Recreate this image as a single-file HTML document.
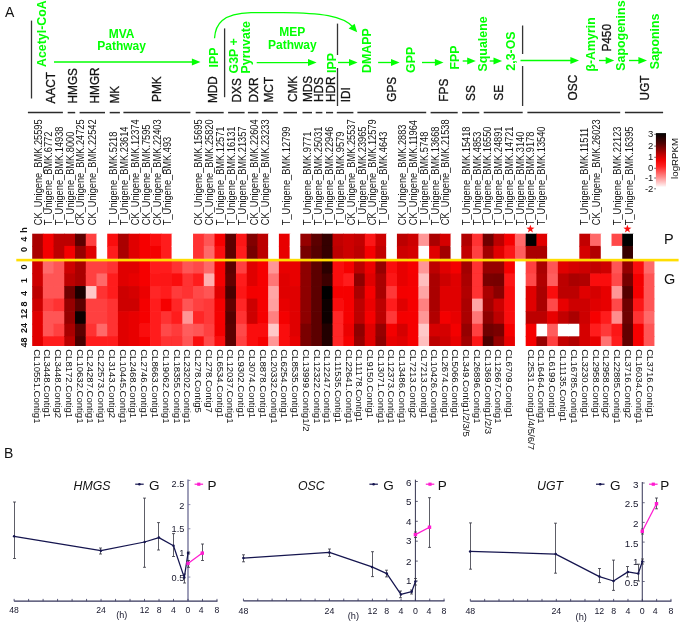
<!DOCTYPE html>
<html><head><meta charset="utf-8"><title>Figure</title>
<style>html,body{margin:0;padding:0;background:#fff;}svg{display:block;}text{font-family:"Liberation Sans",sans-serif;}</style>
</head><body>
<svg width="685" height="622" viewBox="0 0 685 622">
<rect width="685" height="622" fill="#fff"/>
<defs><filter id="hb" x="-2%" y="-5%" width="104%" height="110%"><feGaussianBlur stdDeviation="0.45"/></filter><clipPath id="hc"><rect x="32.1" y="233.4" width="622.34" height="25.50"/><rect x="32.1" y="260.9" width="622.34" height="85.10"/></clipPath></defs>
<g filter="url(#hb)"><g clip-path="url(#hc)">
<rect x="32.10" y="233.40" width="11.43" height="13.20" fill="#aa0000"/>
<rect x="32.10" y="245.90" width="11.43" height="13.00" fill="#aa0000"/>
<rect x="32.10" y="260.90" width="11.43" height="13.27" fill="#cd0000"/>
<rect x="32.10" y="273.47" width="11.43" height="13.27" fill="#cd0000"/>
<rect x="32.10" y="286.04" width="11.43" height="13.27" fill="#bc0000"/>
<rect x="32.10" y="298.61" width="11.43" height="13.27" fill="#cd0000"/>
<rect x="32.10" y="311.18" width="11.43" height="13.27" fill="#e00000"/>
<rect x="32.10" y="323.75" width="11.43" height="13.27" fill="#e00000"/>
<rect x="32.10" y="336.32" width="11.43" height="10.38" fill="#e00000"/>
<rect x="42.83" y="233.40" width="11.43" height="13.20" fill="#f40000"/>
<rect x="42.83" y="245.90" width="11.43" height="13.00" fill="#f40000"/>
<rect x="42.83" y="260.90" width="11.43" height="13.27" fill="#ff6969"/>
<rect x="42.83" y="273.47" width="11.43" height="13.27" fill="#ff5555"/>
<rect x="42.83" y="286.04" width="11.43" height="13.27" fill="#ff5555"/>
<rect x="42.83" y="298.61" width="11.43" height="13.27" fill="#ff4141"/>
<rect x="42.83" y="311.18" width="11.43" height="13.27" fill="#ff5555"/>
<rect x="42.83" y="323.75" width="11.43" height="13.27" fill="#ff5555"/>
<rect x="42.83" y="336.32" width="11.43" height="10.38" fill="#ff1e1e"/>
<rect x="53.56" y="233.40" width="11.43" height="13.20" fill="#bc0000"/>
<rect x="53.56" y="245.90" width="11.43" height="13.00" fill="#bc0000"/>
<rect x="53.56" y="260.90" width="11.43" height="13.27" fill="#ff5555"/>
<rect x="53.56" y="273.47" width="11.43" height="13.27" fill="#ff5555"/>
<rect x="53.56" y="286.04" width="11.43" height="13.27" fill="#ff5555"/>
<rect x="53.56" y="298.61" width="11.43" height="13.27" fill="#ff3030"/>
<rect x="53.56" y="311.18" width="11.43" height="13.27" fill="#ff5555"/>
<rect x="53.56" y="323.75" width="11.43" height="13.27" fill="#ff4141"/>
<rect x="53.56" y="336.32" width="11.43" height="10.38" fill="#ff1e1e"/>
<rect x="64.29" y="233.40" width="11.43" height="13.20" fill="#bc0000"/>
<rect x="64.29" y="245.90" width="11.43" height="13.00" fill="#f40000"/>
<rect x="64.29" y="260.90" width="11.43" height="13.27" fill="#cd0000"/>
<rect x="64.29" y="273.47" width="11.43" height="13.27" fill="#bc0000"/>
<rect x="64.29" y="286.04" width="11.43" height="13.27" fill="#6f0000"/>
<rect x="64.29" y="298.61" width="11.43" height="13.27" fill="#960000"/>
<rect x="64.29" y="311.18" width="11.43" height="13.27" fill="#960000"/>
<rect x="64.29" y="323.75" width="11.43" height="13.27" fill="#aa0000"/>
<rect x="64.29" y="336.32" width="11.43" height="10.38" fill="#bc0000"/>
<rect x="75.02" y="233.40" width="11.43" height="13.20" fill="#5c0000"/>
<rect x="75.02" y="245.90" width="11.43" height="13.00" fill="#960000"/>
<rect x="75.02" y="260.90" width="11.43" height="13.27" fill="#aa0000"/>
<rect x="75.02" y="273.47" width="11.43" height="13.27" fill="#aa0000"/>
<rect x="75.02" y="286.04" width="11.43" height="13.27" fill="#1a0000"/>
<rect x="75.02" y="298.61" width="11.43" height="13.27" fill="#5c0000"/>
<rect x="75.02" y="311.18" width="11.43" height="13.27" fill="#100000"/>
<rect x="75.02" y="323.75" width="11.43" height="13.27" fill="#5c0000"/>
<rect x="75.02" y="336.32" width="11.43" height="10.38" fill="#480000"/>
<rect x="85.75" y="233.40" width="11.43" height="13.20" fill="#ff4141"/>
<rect x="85.75" y="245.90" width="11.43" height="13.00" fill="#e00000"/>
<rect x="85.75" y="260.90" width="11.43" height="13.27" fill="#ff4141"/>
<rect x="85.75" y="273.47" width="11.43" height="13.27" fill="#ff4141"/>
<rect x="85.75" y="286.04" width="11.43" height="13.27" fill="#ffc8c8"/>
<rect x="85.75" y="298.61" width="11.43" height="13.27" fill="#ff4141"/>
<rect x="85.75" y="311.18" width="11.43" height="13.27" fill="#ff4141"/>
<rect x="85.75" y="323.75" width="11.43" height="13.27" fill="#ff3030"/>
<rect x="85.75" y="336.32" width="11.43" height="10.38" fill="#ff1e1e"/>
<rect x="96.48" y="233.40" width="11.43" height="13.20" fill="#ffffff"/>
<rect x="96.48" y="245.90" width="11.43" height="13.00" fill="#ffffff"/>
<rect x="96.48" y="260.90" width="11.43" height="13.27" fill="#ff4141"/>
<rect x="96.48" y="273.47" width="11.43" height="13.27" fill="#ff6969"/>
<rect x="96.48" y="286.04" width="11.43" height="13.27" fill="#ff3030"/>
<rect x="96.48" y="298.61" width="11.43" height="13.27" fill="#ff4141"/>
<rect x="96.48" y="311.18" width="11.43" height="13.27" fill="#ff4141"/>
<rect x="96.48" y="323.75" width="11.43" height="13.27" fill="#ff6969"/>
<rect x="96.48" y="336.32" width="11.43" height="10.38" fill="#ff1e1e"/>
<rect x="107.21" y="233.40" width="11.43" height="13.20" fill="#fa0f0f"/>
<rect x="107.21" y="245.90" width="11.43" height="13.00" fill="#ff1e1e"/>
<rect x="107.21" y="260.90" width="11.43" height="13.27" fill="#ff3030"/>
<rect x="107.21" y="273.47" width="11.43" height="13.27" fill="#ff1e1e"/>
<rect x="107.21" y="286.04" width="11.43" height="13.27" fill="#ff1e1e"/>
<rect x="107.21" y="298.61" width="11.43" height="13.27" fill="#ff3030"/>
<rect x="107.21" y="311.18" width="11.43" height="13.27" fill="#ff3030"/>
<rect x="107.21" y="323.75" width="11.43" height="13.27" fill="#ff3030"/>
<rect x="107.21" y="336.32" width="11.43" height="10.38" fill="#ff1e1e"/>
<rect x="117.94" y="233.40" width="11.43" height="13.20" fill="#aa0000"/>
<rect x="117.94" y="245.90" width="11.43" height="13.00" fill="#aa0000"/>
<rect x="117.94" y="260.90" width="11.43" height="13.27" fill="#e00000"/>
<rect x="117.94" y="273.47" width="11.43" height="13.27" fill="#e00000"/>
<rect x="117.94" y="286.04" width="11.43" height="13.27" fill="#cd0000"/>
<rect x="117.94" y="298.61" width="11.43" height="13.27" fill="#cd0000"/>
<rect x="117.94" y="311.18" width="11.43" height="13.27" fill="#e00000"/>
<rect x="117.94" y="323.75" width="11.43" height="13.27" fill="#e00000"/>
<rect x="117.94" y="336.32" width="11.43" height="10.38" fill="#e00000"/>
<rect x="128.67" y="233.40" width="11.43" height="13.20" fill="#e00000"/>
<rect x="128.67" y="245.90" width="11.43" height="13.00" fill="#e00000"/>
<rect x="128.67" y="260.90" width="11.43" height="13.27" fill="#e00000"/>
<rect x="128.67" y="273.47" width="11.43" height="13.27" fill="#e80000"/>
<rect x="128.67" y="286.04" width="11.43" height="13.27" fill="#d50000"/>
<rect x="128.67" y="298.61" width="11.43" height="13.27" fill="#cd0000"/>
<rect x="128.67" y="311.18" width="11.43" height="13.27" fill="#e80000"/>
<rect x="128.67" y="323.75" width="11.43" height="13.27" fill="#e80000"/>
<rect x="128.67" y="336.32" width="11.43" height="10.38" fill="#e80000"/>
<rect x="139.40" y="233.40" width="11.43" height="13.20" fill="#f60606"/>
<rect x="139.40" y="245.90" width="11.43" height="13.00" fill="#f60606"/>
<rect x="139.40" y="260.90" width="11.43" height="13.27" fill="#f60606"/>
<rect x="139.40" y="273.47" width="11.43" height="13.27" fill="#f60606"/>
<rect x="139.40" y="286.04" width="11.43" height="13.27" fill="#ec0000"/>
<rect x="139.40" y="298.61" width="11.43" height="13.27" fill="#f40000"/>
<rect x="139.40" y="311.18" width="11.43" height="13.27" fill="#f60606"/>
<rect x="139.40" y="323.75" width="11.43" height="13.27" fill="#fa0f0f"/>
<rect x="139.40" y="336.32" width="11.43" height="10.38" fill="#f60606"/>
<rect x="150.13" y="233.40" width="11.43" height="13.20" fill="#fa0f0f"/>
<rect x="150.13" y="245.90" width="11.43" height="13.00" fill="#f40000"/>
<rect x="150.13" y="260.90" width="11.43" height="13.27" fill="#ff1e1e"/>
<rect x="150.13" y="273.47" width="11.43" height="13.27" fill="#fd1818"/>
<rect x="150.13" y="286.04" width="11.43" height="13.27" fill="#ff2525"/>
<rect x="150.13" y="298.61" width="11.43" height="13.27" fill="#ff1e1e"/>
<rect x="150.13" y="311.18" width="11.43" height="13.27" fill="#ff1e1e"/>
<rect x="150.13" y="323.75" width="11.43" height="13.27" fill="#ff1e1e"/>
<rect x="150.13" y="336.32" width="11.43" height="10.38" fill="#ff1e1e"/>
<rect x="160.86" y="233.40" width="11.43" height="13.20" fill="#ff1e1e"/>
<rect x="160.86" y="245.90" width="11.43" height="13.00" fill="#ff1e1e"/>
<rect x="160.86" y="260.90" width="11.43" height="13.27" fill="#ff1e1e"/>
<rect x="160.86" y="273.47" width="11.43" height="13.27" fill="#fc1515"/>
<rect x="160.86" y="286.04" width="11.43" height="13.27" fill="#ff1e1e"/>
<rect x="160.86" y="298.61" width="11.43" height="13.27" fill="#f60606"/>
<rect x="160.86" y="311.18" width="11.43" height="13.27" fill="#ff3030"/>
<rect x="160.86" y="323.75" width="11.43" height="13.27" fill="#ff4949"/>
<rect x="160.86" y="336.32" width="11.43" height="10.38" fill="#ff3030"/>
<rect x="171.59" y="233.40" width="11.43" height="13.20" fill="#ffffff"/>
<rect x="171.59" y="245.90" width="11.43" height="13.00" fill="#ffffff"/>
<rect x="171.59" y="260.90" width="11.43" height="13.27" fill="#ff3030"/>
<rect x="171.59" y="273.47" width="11.43" height="13.27" fill="#fa0f0f"/>
<rect x="171.59" y="286.04" width="11.43" height="13.27" fill="#ff3a3a"/>
<rect x="171.59" y="298.61" width="11.43" height="13.27" fill="#ff2525"/>
<rect x="171.59" y="311.18" width="11.43" height="13.27" fill="#ff1e1e"/>
<rect x="171.59" y="323.75" width="11.43" height="13.27" fill="#ff3a3a"/>
<rect x="171.59" y="336.32" width="11.43" height="10.38" fill="#ff3030"/>
<rect x="182.32" y="233.40" width="11.43" height="13.20" fill="#ffffff"/>
<rect x="182.32" y="245.90" width="11.43" height="13.00" fill="#ffffff"/>
<rect x="182.32" y="260.90" width="11.43" height="13.27" fill="#ff5555"/>
<rect x="182.32" y="273.47" width="11.43" height="13.27" fill="#ff3030"/>
<rect x="182.32" y="286.04" width="11.43" height="13.27" fill="#ff3030"/>
<rect x="182.32" y="298.61" width="11.43" height="13.27" fill="#ff5555"/>
<rect x="182.32" y="311.18" width="11.43" height="13.27" fill="#ff9696"/>
<rect x="182.32" y="323.75" width="11.43" height="13.27" fill="#ff5d5d"/>
<rect x="182.32" y="336.32" width="11.43" height="10.38" fill="#ff5555"/>
<rect x="193.05" y="233.40" width="11.43" height="13.20" fill="#ff3030"/>
<rect x="193.05" y="245.90" width="11.43" height="13.00" fill="#ff3030"/>
<rect x="193.05" y="260.90" width="11.43" height="13.27" fill="#ff4949"/>
<rect x="193.05" y="273.47" width="11.43" height="13.27" fill="#ff1e1e"/>
<rect x="193.05" y="286.04" width="11.43" height="13.27" fill="#ff4949"/>
<rect x="193.05" y="298.61" width="11.43" height="13.27" fill="#ff4141"/>
<rect x="193.05" y="311.18" width="11.43" height="13.27" fill="#ff2525"/>
<rect x="193.05" y="323.75" width="11.43" height="13.27" fill="#ff5555"/>
<rect x="193.05" y="336.32" width="11.43" height="10.38" fill="#fa0f0f"/>
<rect x="203.78" y="233.40" width="11.43" height="13.20" fill="#ff5555"/>
<rect x="203.78" y="245.90" width="11.43" height="13.00" fill="#ff6969"/>
<rect x="203.78" y="260.90" width="11.43" height="13.27" fill="#ff6969"/>
<rect x="203.78" y="273.47" width="11.43" height="13.27" fill="#ffafaf"/>
<rect x="203.78" y="286.04" width="11.43" height="13.27" fill="#ff5555"/>
<rect x="203.78" y="298.61" width="11.43" height="13.27" fill="#ff3737"/>
<rect x="203.78" y="311.18" width="11.43" height="13.27" fill="#ff3737"/>
<rect x="203.78" y="323.75" width="11.43" height="13.27" fill="#ff4141"/>
<rect x="203.78" y="336.32" width="11.43" height="10.38" fill="#ff4949"/>
<rect x="214.51" y="233.40" width="11.43" height="13.20" fill="#f60606"/>
<rect x="214.51" y="245.90" width="11.43" height="13.00" fill="#fa0f0f"/>
<rect x="214.51" y="260.90" width="11.43" height="13.27" fill="#f40000"/>
<rect x="214.51" y="273.47" width="11.43" height="13.27" fill="#f40000"/>
<rect x="214.51" y="286.04" width="11.43" height="13.27" fill="#e00000"/>
<rect x="214.51" y="298.61" width="11.43" height="13.27" fill="#f40000"/>
<rect x="214.51" y="311.18" width="11.43" height="13.27" fill="#f60606"/>
<rect x="214.51" y="323.75" width="11.43" height="13.27" fill="#f40000"/>
<rect x="214.51" y="336.32" width="11.43" height="10.38" fill="#fa0f0f"/>
<rect x="225.24" y="233.40" width="11.43" height="13.20" fill="#5c0000"/>
<rect x="225.24" y="245.90" width="11.43" height="13.00" fill="#5c0000"/>
<rect x="225.24" y="260.90" width="11.43" height="13.27" fill="#5c0000"/>
<rect x="225.24" y="273.47" width="11.43" height="13.27" fill="#640000"/>
<rect x="225.24" y="286.04" width="11.43" height="13.27" fill="#480000"/>
<rect x="225.24" y="298.61" width="11.43" height="13.27" fill="#640000"/>
<rect x="225.24" y="311.18" width="11.43" height="13.27" fill="#540000"/>
<rect x="225.24" y="323.75" width="11.43" height="13.27" fill="#5c0000"/>
<rect x="225.24" y="336.32" width="11.43" height="10.38" fill="#5c0000"/>
<rect x="235.97" y="233.40" width="11.43" height="13.20" fill="#fc1515"/>
<rect x="235.97" y="245.90" width="11.43" height="13.00" fill="#ff1e1e"/>
<rect x="235.97" y="260.90" width="11.43" height="13.27" fill="#ff4141"/>
<rect x="235.97" y="273.47" width="11.43" height="13.27" fill="#ff1e1e"/>
<rect x="235.97" y="286.04" width="11.43" height="13.27" fill="#fd1818"/>
<rect x="235.97" y="298.61" width="11.43" height="13.27" fill="#ff2525"/>
<rect x="235.97" y="311.18" width="11.43" height="13.27" fill="#ff3030"/>
<rect x="235.97" y="323.75" width="11.43" height="13.27" fill="#ff4949"/>
<rect x="235.97" y="336.32" width="11.43" height="10.38" fill="#ff4141"/>
<rect x="246.70" y="233.40" width="11.43" height="13.20" fill="#820000"/>
<rect x="246.70" y="245.90" width="11.43" height="13.00" fill="#770000"/>
<rect x="246.70" y="260.90" width="11.43" height="13.27" fill="#e00000"/>
<rect x="246.70" y="273.47" width="11.43" height="13.27" fill="#e00000"/>
<rect x="246.70" y="286.04" width="11.43" height="13.27" fill="#f40000"/>
<rect x="246.70" y="298.61" width="11.43" height="13.27" fill="#cd0000"/>
<rect x="246.70" y="311.18" width="11.43" height="13.27" fill="#cd0000"/>
<rect x="246.70" y="323.75" width="11.43" height="13.27" fill="#fa0f0f"/>
<rect x="246.70" y="336.32" width="11.43" height="10.38" fill="#fa0f0f"/>
<rect x="257.43" y="233.40" width="11.43" height="13.20" fill="#bc0000"/>
<rect x="257.43" y="245.90" width="11.43" height="13.00" fill="#bc0000"/>
<rect x="257.43" y="260.90" width="11.43" height="13.27" fill="#f60606"/>
<rect x="257.43" y="273.47" width="11.43" height="13.27" fill="#f60606"/>
<rect x="257.43" y="286.04" width="11.43" height="13.27" fill="#f60606"/>
<rect x="257.43" y="298.61" width="11.43" height="13.27" fill="#f60606"/>
<rect x="257.43" y="311.18" width="11.43" height="13.27" fill="#f60606"/>
<rect x="257.43" y="323.75" width="11.43" height="13.27" fill="#fa0f0f"/>
<rect x="257.43" y="336.32" width="11.43" height="10.38" fill="#f60606"/>
<rect x="268.16" y="233.40" width="11.43" height="13.20" fill="#ffffff"/>
<rect x="268.16" y="245.90" width="11.43" height="13.00" fill="#ffffff"/>
<rect x="268.16" y="260.90" width="11.43" height="13.27" fill="#ff9696"/>
<rect x="268.16" y="273.47" width="11.43" height="13.27" fill="#ff7676"/>
<rect x="268.16" y="286.04" width="11.43" height="13.27" fill="#ffa5a5"/>
<rect x="268.16" y="298.61" width="11.43" height="13.27" fill="#ffa0a0"/>
<rect x="268.16" y="311.18" width="11.43" height="13.27" fill="#ff8080"/>
<rect x="268.16" y="323.75" width="11.43" height="13.27" fill="#ffc8c8"/>
<rect x="268.16" y="336.32" width="11.43" height="10.38" fill="#ff9696"/>
<rect x="278.89" y="233.40" width="11.43" height="13.20" fill="#e80000"/>
<rect x="278.89" y="245.90" width="11.43" height="13.00" fill="#e80000"/>
<rect x="278.89" y="260.90" width="11.43" height="13.27" fill="#e80000"/>
<rect x="278.89" y="273.47" width="11.43" height="13.27" fill="#e00000"/>
<rect x="278.89" y="286.04" width="11.43" height="13.27" fill="#e00000"/>
<rect x="278.89" y="298.61" width="11.43" height="13.27" fill="#e80000"/>
<rect x="278.89" y="311.18" width="11.43" height="13.27" fill="#f40000"/>
<rect x="278.89" y="323.75" width="11.43" height="13.27" fill="#fa0f0f"/>
<rect x="278.89" y="336.32" width="11.43" height="10.38" fill="#fa0f0f"/>
<rect x="289.62" y="233.40" width="11.43" height="13.20" fill="#ffffff"/>
<rect x="289.62" y="245.90" width="11.43" height="13.00" fill="#ffffff"/>
<rect x="289.62" y="260.90" width="11.43" height="13.27" fill="#e80000"/>
<rect x="289.62" y="273.47" width="11.43" height="13.27" fill="#e80000"/>
<rect x="289.62" y="286.04" width="11.43" height="13.27" fill="#e00000"/>
<rect x="289.62" y="298.61" width="11.43" height="13.27" fill="#e00000"/>
<rect x="289.62" y="311.18" width="11.43" height="13.27" fill="#e00000"/>
<rect x="289.62" y="323.75" width="11.43" height="13.27" fill="#e00000"/>
<rect x="289.62" y="336.32" width="11.43" height="10.38" fill="#e80000"/>
<rect x="300.35" y="233.40" width="11.43" height="13.20" fill="#960000"/>
<rect x="300.35" y="245.90" width="11.43" height="13.00" fill="#770000"/>
<rect x="300.35" y="260.90" width="11.43" height="13.27" fill="#8e0000"/>
<rect x="300.35" y="273.47" width="11.43" height="13.27" fill="#8e0000"/>
<rect x="300.35" y="286.04" width="11.43" height="13.27" fill="#8e0000"/>
<rect x="300.35" y="298.61" width="11.43" height="13.27" fill="#8e0000"/>
<rect x="300.35" y="311.18" width="11.43" height="13.27" fill="#8e0000"/>
<rect x="300.35" y="323.75" width="11.43" height="13.27" fill="#7a0000"/>
<rect x="300.35" y="336.32" width="11.43" height="10.38" fill="#7a0000"/>
<rect x="311.08" y="233.40" width="11.43" height="13.20" fill="#5c0000"/>
<rect x="311.08" y="245.90" width="11.43" height="13.00" fill="#540000"/>
<rect x="311.08" y="260.90" width="11.43" height="13.27" fill="#5c0000"/>
<rect x="311.08" y="273.47" width="11.43" height="13.27" fill="#5c0000"/>
<rect x="311.08" y="286.04" width="11.43" height="13.27" fill="#5c0000"/>
<rect x="311.08" y="298.61" width="11.43" height="13.27" fill="#5c0000"/>
<rect x="311.08" y="311.18" width="11.43" height="13.27" fill="#5c0000"/>
<rect x="311.08" y="323.75" width="11.43" height="13.27" fill="#5c0000"/>
<rect x="311.08" y="336.32" width="11.43" height="10.38" fill="#5c0000"/>
<rect x="321.81" y="233.40" width="11.43" height="13.20" fill="#340000"/>
<rect x="321.81" y="245.90" width="11.43" height="13.00" fill="#340000"/>
<rect x="321.81" y="260.90" width="11.43" height="13.27" fill="#2a0000"/>
<rect x="321.81" y="273.47" width="11.43" height="13.27" fill="#3c0000"/>
<rect x="321.81" y="286.04" width="11.43" height="13.27" fill="#000000"/>
<rect x="321.81" y="298.61" width="11.43" height="13.27" fill="#100000"/>
<rect x="321.81" y="311.18" width="11.43" height="13.27" fill="#100000"/>
<rect x="321.81" y="323.75" width="11.43" height="13.27" fill="#240000"/>
<rect x="321.81" y="336.32" width="11.43" height="10.38" fill="#240000"/>
<rect x="332.54" y="233.40" width="11.43" height="13.20" fill="#c20000"/>
<rect x="332.54" y="245.90" width="11.43" height="13.00" fill="#bc0000"/>
<rect x="332.54" y="260.90" width="11.43" height="13.27" fill="#fa0f0f"/>
<rect x="332.54" y="273.47" width="11.43" height="13.27" fill="#fa0f0f"/>
<rect x="332.54" y="286.04" width="11.43" height="13.27" fill="#f60606"/>
<rect x="332.54" y="298.61" width="11.43" height="13.27" fill="#fa0f0f"/>
<rect x="332.54" y="311.18" width="11.43" height="13.27" fill="#ff2525"/>
<rect x="332.54" y="323.75" width="11.43" height="13.27" fill="#ff2525"/>
<rect x="332.54" y="336.32" width="11.43" height="10.38" fill="#ff2525"/>
<rect x="343.27" y="233.40" width="11.43" height="13.20" fill="#cd0000"/>
<rect x="343.27" y="245.90" width="11.43" height="13.00" fill="#cd0000"/>
<rect x="343.27" y="260.90" width="11.43" height="13.27" fill="#f60606"/>
<rect x="343.27" y="273.47" width="11.43" height="13.27" fill="#ff1e1e"/>
<rect x="343.27" y="286.04" width="11.43" height="13.27" fill="#f60606"/>
<rect x="343.27" y="298.61" width="11.43" height="13.27" fill="#f60606"/>
<rect x="343.27" y="311.18" width="11.43" height="13.27" fill="#f60606"/>
<rect x="343.27" y="323.75" width="11.43" height="13.27" fill="#ec0000"/>
<rect x="343.27" y="336.32" width="11.43" height="10.38" fill="#f60606"/>
<rect x="354.00" y="233.40" width="11.43" height="13.20" fill="#c20000"/>
<rect x="354.00" y="245.90" width="11.43" height="13.00" fill="#bc0000"/>
<rect x="354.00" y="260.90" width="11.43" height="13.27" fill="#bc0000"/>
<rect x="354.00" y="273.47" width="11.43" height="13.27" fill="#8e0000"/>
<rect x="354.00" y="286.04" width="11.43" height="13.27" fill="#aa0000"/>
<rect x="354.00" y="298.61" width="11.43" height="13.27" fill="#bc0000"/>
<rect x="354.00" y="311.18" width="11.43" height="13.27" fill="#bc0000"/>
<rect x="354.00" y="323.75" width="11.43" height="13.27" fill="#8e0000"/>
<rect x="354.00" y="336.32" width="11.43" height="10.38" fill="#960000"/>
<rect x="364.73" y="233.40" width="11.43" height="13.20" fill="#fc1515"/>
<rect x="364.73" y="245.90" width="11.43" height="13.00" fill="#f60606"/>
<rect x="364.73" y="260.90" width="11.43" height="13.27" fill="#ec0000"/>
<rect x="364.73" y="273.47" width="11.43" height="13.27" fill="#e00000"/>
<rect x="364.73" y="286.04" width="11.43" height="13.27" fill="#f60606"/>
<rect x="364.73" y="298.61" width="11.43" height="13.27" fill="#ec0000"/>
<rect x="364.73" y="311.18" width="11.43" height="13.27" fill="#f60606"/>
<rect x="364.73" y="323.75" width="11.43" height="13.27" fill="#e00000"/>
<rect x="364.73" y="336.32" width="11.43" height="10.38" fill="#e00000"/>
<rect x="375.46" y="233.40" width="11.43" height="13.20" fill="#cd0000"/>
<rect x="375.46" y="245.90" width="11.43" height="13.00" fill="#c20000"/>
<rect x="375.46" y="260.90" width="11.43" height="13.27" fill="#960000"/>
<rect x="375.46" y="273.47" width="11.43" height="13.27" fill="#aa0000"/>
<rect x="375.46" y="286.04" width="11.43" height="13.27" fill="#aa0000"/>
<rect x="375.46" y="298.61" width="11.43" height="13.27" fill="#bc0000"/>
<rect x="375.46" y="311.18" width="11.43" height="13.27" fill="#bc0000"/>
<rect x="375.46" y="323.75" width="11.43" height="13.27" fill="#960000"/>
<rect x="375.46" y="336.32" width="11.43" height="10.38" fill="#8e0000"/>
<rect x="386.19" y="233.40" width="11.43" height="13.20" fill="#ffffff"/>
<rect x="386.19" y="245.90" width="11.43" height="13.00" fill="#ffffff"/>
<rect x="386.19" y="260.90" width="11.43" height="13.27" fill="#fa0f0f"/>
<rect x="386.19" y="273.47" width="11.43" height="13.27" fill="#fc1515"/>
<rect x="386.19" y="286.04" width="11.43" height="13.27" fill="#ff3737"/>
<rect x="386.19" y="298.61" width="11.43" height="13.27" fill="#ff1e1e"/>
<rect x="386.19" y="311.18" width="11.43" height="13.27" fill="#ff3737"/>
<rect x="386.19" y="323.75" width="11.43" height="13.27" fill="#f40000"/>
<rect x="386.19" y="336.32" width="11.43" height="10.38" fill="#e80000"/>
<rect x="396.92" y="233.40" width="11.43" height="13.20" fill="#bc0000"/>
<rect x="396.92" y="245.90" width="11.43" height="13.00" fill="#cd0000"/>
<rect x="396.92" y="260.90" width="11.43" height="13.27" fill="#e80000"/>
<rect x="396.92" y="273.47" width="11.43" height="13.27" fill="#e80000"/>
<rect x="396.92" y="286.04" width="11.43" height="13.27" fill="#f40000"/>
<rect x="396.92" y="298.61" width="11.43" height="13.27" fill="#e00000"/>
<rect x="396.92" y="311.18" width="11.43" height="13.27" fill="#f40000"/>
<rect x="396.92" y="323.75" width="11.43" height="13.27" fill="#d50000"/>
<rect x="396.92" y="336.32" width="11.43" height="10.38" fill="#e00000"/>
<rect x="407.65" y="233.40" width="11.43" height="13.20" fill="#cd0000"/>
<rect x="407.65" y="245.90" width="11.43" height="13.00" fill="#d50000"/>
<rect x="407.65" y="260.90" width="11.43" height="13.27" fill="#f60606"/>
<rect x="407.65" y="273.47" width="11.43" height="13.27" fill="#f40000"/>
<rect x="407.65" y="286.04" width="11.43" height="13.27" fill="#f60606"/>
<rect x="407.65" y="298.61" width="11.43" height="13.27" fill="#f60606"/>
<rect x="407.65" y="311.18" width="11.43" height="13.27" fill="#f60606"/>
<rect x="407.65" y="323.75" width="11.43" height="13.27" fill="#f60606"/>
<rect x="407.65" y="336.32" width="11.43" height="10.38" fill="#f60606"/>
<rect x="418.38" y="233.40" width="11.43" height="13.20" fill="#ff9696"/>
<rect x="418.38" y="245.90" width="11.43" height="13.00" fill="#ffffff"/>
<rect x="418.38" y="260.90" width="11.43" height="13.27" fill="#ff9696"/>
<rect x="418.38" y="273.47" width="11.43" height="13.27" fill="#ffbebe"/>
<rect x="418.38" y="286.04" width="11.43" height="13.27" fill="#ffa5a5"/>
<rect x="418.38" y="298.61" width="11.43" height="13.27" fill="#ff8080"/>
<rect x="418.38" y="311.18" width="11.43" height="13.27" fill="#ff9696"/>
<rect x="418.38" y="323.75" width="11.43" height="13.27" fill="#ffc8c8"/>
<rect x="418.38" y="336.32" width="11.43" height="10.38" fill="#ffbebe"/>
<rect x="429.11" y="233.40" width="11.43" height="13.20" fill="#aa0000"/>
<rect x="429.11" y="245.90" width="11.43" height="13.00" fill="#e00000"/>
<rect x="429.11" y="260.90" width="11.43" height="13.27" fill="#bc0000"/>
<rect x="429.11" y="273.47" width="11.43" height="13.27" fill="#aa0000"/>
<rect x="429.11" y="286.04" width="11.43" height="13.27" fill="#aa0000"/>
<rect x="429.11" y="298.61" width="11.43" height="13.27" fill="#aa0000"/>
<rect x="429.11" y="311.18" width="11.43" height="13.27" fill="#b10000"/>
<rect x="429.11" y="323.75" width="11.43" height="13.27" fill="#d50000"/>
<rect x="429.11" y="336.32" width="11.43" height="10.38" fill="#bc0000"/>
<rect x="439.84" y="233.40" width="11.43" height="13.20" fill="#d50000"/>
<rect x="439.84" y="245.90" width="11.43" height="13.00" fill="#a20000"/>
<rect x="439.84" y="260.90" width="11.43" height="13.27" fill="#e00000"/>
<rect x="439.84" y="273.47" width="11.43" height="13.27" fill="#cd0000"/>
<rect x="439.84" y="286.04" width="11.43" height="13.27" fill="#e00000"/>
<rect x="439.84" y="298.61" width="11.43" height="13.27" fill="#e00000"/>
<rect x="439.84" y="311.18" width="11.43" height="13.27" fill="#f40000"/>
<rect x="439.84" y="323.75" width="11.43" height="13.27" fill="#d50000"/>
<rect x="439.84" y="336.32" width="11.43" height="10.38" fill="#cd0000"/>
<rect x="450.57" y="233.40" width="11.43" height="13.20" fill="#ffffff"/>
<rect x="450.57" y="245.90" width="11.43" height="13.00" fill="#ffffff"/>
<rect x="450.57" y="260.90" width="11.43" height="13.27" fill="#f40000"/>
<rect x="450.57" y="273.47" width="11.43" height="13.27" fill="#e00000"/>
<rect x="450.57" y="286.04" width="11.43" height="13.27" fill="#e00000"/>
<rect x="450.57" y="298.61" width="11.43" height="13.27" fill="#e00000"/>
<rect x="450.57" y="311.18" width="11.43" height="13.27" fill="#e80000"/>
<rect x="450.57" y="323.75" width="11.43" height="13.27" fill="#f40000"/>
<rect x="450.57" y="336.32" width="11.43" height="10.38" fill="#e80000"/>
<rect x="461.30" y="233.40" width="11.43" height="13.20" fill="#b10000"/>
<rect x="461.30" y="245.90" width="11.43" height="13.00" fill="#c20000"/>
<rect x="461.30" y="260.90" width="11.43" height="13.27" fill="#a20000"/>
<rect x="461.30" y="273.47" width="11.43" height="13.27" fill="#aa0000"/>
<rect x="461.30" y="286.04" width="11.43" height="13.27" fill="#b10000"/>
<rect x="461.30" y="298.61" width="11.43" height="13.27" fill="#aa0000"/>
<rect x="461.30" y="311.18" width="11.43" height="13.27" fill="#aa0000"/>
<rect x="461.30" y="323.75" width="11.43" height="13.27" fill="#960000"/>
<rect x="461.30" y="336.32" width="11.43" height="10.38" fill="#a20000"/>
<rect x="472.03" y="233.40" width="11.43" height="13.20" fill="#ff3030"/>
<rect x="472.03" y="245.90" width="11.43" height="13.00" fill="#ff4141"/>
<rect x="472.03" y="260.90" width="11.43" height="13.27" fill="#ff3030"/>
<rect x="472.03" y="273.47" width="11.43" height="13.27" fill="#ff3030"/>
<rect x="472.03" y="286.04" width="11.43" height="13.27" fill="#ff3030"/>
<rect x="472.03" y="298.61" width="11.43" height="13.27" fill="#ffa5a5"/>
<rect x="472.03" y="311.18" width="11.43" height="13.27" fill="#ff7676"/>
<rect x="472.03" y="323.75" width="11.43" height="13.27" fill="#ff4141"/>
<rect x="472.03" y="336.32" width="11.43" height="10.38" fill="#fc1515"/>
<rect x="482.76" y="233.40" width="11.43" height="13.20" fill="#6f0000"/>
<rect x="482.76" y="245.90" width="11.43" height="13.00" fill="#a20000"/>
<rect x="482.76" y="260.90" width="11.43" height="13.27" fill="#960000"/>
<rect x="482.76" y="273.47" width="11.43" height="13.27" fill="#7a0000"/>
<rect x="482.76" y="286.04" width="11.43" height="13.27" fill="#aa0000"/>
<rect x="482.76" y="298.61" width="11.43" height="13.27" fill="#a20000"/>
<rect x="482.76" y="311.18" width="11.43" height="13.27" fill="#8e0000"/>
<rect x="482.76" y="323.75" width="11.43" height="13.27" fill="#6f0000"/>
<rect x="482.76" y="336.32" width="11.43" height="10.38" fill="#500000"/>
<rect x="493.49" y="233.40" width="11.43" height="13.20" fill="#bc0000"/>
<rect x="493.49" y="245.90" width="11.43" height="13.00" fill="#e00000"/>
<rect x="493.49" y="260.90" width="11.43" height="13.27" fill="#960000"/>
<rect x="493.49" y="273.47" width="11.43" height="13.27" fill="#770000"/>
<rect x="493.49" y="286.04" width="11.43" height="13.27" fill="#8a0000"/>
<rect x="493.49" y="298.61" width="11.43" height="13.27" fill="#cd0000"/>
<rect x="493.49" y="311.18" width="11.43" height="13.27" fill="#bc0000"/>
<rect x="493.49" y="323.75" width="11.43" height="13.27" fill="#7a0000"/>
<rect x="493.49" y="336.32" width="11.43" height="10.38" fill="#960000"/>
<rect x="504.22" y="233.40" width="11.43" height="13.20" fill="#f60606"/>
<rect x="504.22" y="245.90" width="11.43" height="13.00" fill="#fc1515"/>
<rect x="504.22" y="260.90" width="11.43" height="13.27" fill="#f60606"/>
<rect x="504.22" y="273.47" width="11.43" height="13.27" fill="#fd1818"/>
<rect x="504.22" y="286.04" width="11.43" height="13.27" fill="#fa0f0f"/>
<rect x="504.22" y="298.61" width="11.43" height="13.27" fill="#fa0f0f"/>
<rect x="504.22" y="311.18" width="11.43" height="13.27" fill="#fa0f0f"/>
<rect x="504.22" y="323.75" width="11.43" height="13.27" fill="#f60606"/>
<rect x="504.22" y="336.32" width="11.43" height="10.38" fill="#e80000"/>
<rect x="514.95" y="233.40" width="11.43" height="13.20" fill="#ff6969"/>
<rect x="514.95" y="245.90" width="11.43" height="13.00" fill="#ff5d5d"/>
<rect x="514.95" y="260.90" width="11.43" height="13.27" fill="#ffffff"/>
<rect x="514.95" y="273.47" width="11.43" height="13.27" fill="#ffffff"/>
<rect x="514.95" y="286.04" width="11.43" height="13.27" fill="#ffffff"/>
<rect x="514.95" y="298.61" width="11.43" height="13.27" fill="#ffffff"/>
<rect x="514.95" y="311.18" width="11.43" height="13.27" fill="#ffffff"/>
<rect x="514.95" y="323.75" width="11.43" height="13.27" fill="#ffffff"/>
<rect x="514.95" y="336.32" width="11.43" height="10.38" fill="#ffffff"/>
<rect x="525.68" y="233.40" width="11.43" height="13.20" fill="#000000"/>
<rect x="525.68" y="245.90" width="11.43" height="13.00" fill="#aa0000"/>
<rect x="525.68" y="260.90" width="11.43" height="13.27" fill="#ff4141"/>
<rect x="525.68" y="273.47" width="11.43" height="13.27" fill="#ff4949"/>
<rect x="525.68" y="286.04" width="11.43" height="13.27" fill="#e00000"/>
<rect x="525.68" y="298.61" width="11.43" height="13.27" fill="#e00000"/>
<rect x="525.68" y="311.18" width="11.43" height="13.27" fill="#bc0000"/>
<rect x="525.68" y="323.75" width="11.43" height="13.27" fill="#f60606"/>
<rect x="525.68" y="336.32" width="11.43" height="10.38" fill="#f60606"/>
<rect x="536.41" y="233.40" width="11.43" height="13.20" fill="#e00000"/>
<rect x="536.41" y="245.90" width="11.43" height="13.00" fill="#aa0000"/>
<rect x="536.41" y="260.90" width="11.43" height="13.27" fill="#aa0000"/>
<rect x="536.41" y="273.47" width="11.43" height="13.27" fill="#b10000"/>
<rect x="536.41" y="286.04" width="11.43" height="13.27" fill="#aa0000"/>
<rect x="536.41" y="298.61" width="11.43" height="13.27" fill="#aa0000"/>
<rect x="536.41" y="311.18" width="11.43" height="13.27" fill="#bc0000"/>
<rect x="536.41" y="323.75" width="11.43" height="13.27" fill="#ffffff"/>
<rect x="536.41" y="336.32" width="11.43" height="10.38" fill="#960000"/>
<rect x="547.14" y="233.40" width="11.43" height="13.20" fill="#ffffff"/>
<rect x="547.14" y="245.90" width="11.43" height="13.00" fill="#ffffff"/>
<rect x="547.14" y="260.90" width="11.43" height="13.27" fill="#ff5555"/>
<rect x="547.14" y="273.47" width="11.43" height="13.27" fill="#ff5d5d"/>
<rect x="547.14" y="286.04" width="11.43" height="13.27" fill="#fa0f0f"/>
<rect x="547.14" y="298.61" width="11.43" height="13.27" fill="#ff4949"/>
<rect x="547.14" y="311.18" width="11.43" height="13.27" fill="#e80000"/>
<rect x="547.14" y="323.75" width="11.43" height="13.27" fill="#ff5d5d"/>
<rect x="547.14" y="336.32" width="11.43" height="10.38" fill="#ff4141"/>
<rect x="557.87" y="233.40" width="11.43" height="13.20" fill="#ffffff"/>
<rect x="557.87" y="245.90" width="11.43" height="13.00" fill="#ffffff"/>
<rect x="557.87" y="260.90" width="11.43" height="13.27" fill="#e00000"/>
<rect x="557.87" y="273.47" width="11.43" height="13.27" fill="#bc0000"/>
<rect x="557.87" y="286.04" width="11.43" height="13.27" fill="#bc0000"/>
<rect x="557.87" y="298.61" width="11.43" height="13.27" fill="#e80000"/>
<rect x="557.87" y="311.18" width="11.43" height="13.27" fill="#c20000"/>
<rect x="557.87" y="323.75" width="11.43" height="13.27" fill="#ffffff"/>
<rect x="557.87" y="336.32" width="11.43" height="10.38" fill="#c20000"/>
<rect x="568.60" y="233.40" width="11.43" height="13.20" fill="#ffffff"/>
<rect x="568.60" y="245.90" width="11.43" height="13.00" fill="#ffffff"/>
<rect x="568.60" y="260.90" width="11.43" height="13.27" fill="#d50000"/>
<rect x="568.60" y="273.47" width="11.43" height="13.27" fill="#aa0000"/>
<rect x="568.60" y="286.04" width="11.43" height="13.27" fill="#bc0000"/>
<rect x="568.60" y="298.61" width="11.43" height="13.27" fill="#cd0000"/>
<rect x="568.60" y="311.18" width="11.43" height="13.27" fill="#aa0000"/>
<rect x="568.60" y="323.75" width="11.43" height="13.27" fill="#ffffff"/>
<rect x="568.60" y="336.32" width="11.43" height="10.38" fill="#b10000"/>
<rect x="579.33" y="233.40" width="11.43" height="13.20" fill="#c20000"/>
<rect x="579.33" y="245.90" width="11.43" height="13.00" fill="#d50000"/>
<rect x="579.33" y="260.90" width="11.43" height="13.27" fill="#cd0000"/>
<rect x="579.33" y="273.47" width="11.43" height="13.27" fill="#b10000"/>
<rect x="579.33" y="286.04" width="11.43" height="13.27" fill="#e00000"/>
<rect x="579.33" y="298.61" width="11.43" height="13.27" fill="#cd0000"/>
<rect x="579.33" y="311.18" width="11.43" height="13.27" fill="#cd0000"/>
<rect x="579.33" y="323.75" width="11.43" height="13.27" fill="#d50000"/>
<rect x="579.33" y="336.32" width="11.43" height="10.38" fill="#d50000"/>
<rect x="590.06" y="233.40" width="11.43" height="13.20" fill="#ff6969"/>
<rect x="590.06" y="245.90" width="11.43" height="13.00" fill="#b10000"/>
<rect x="590.06" y="260.90" width="11.43" height="13.27" fill="#c20000"/>
<rect x="590.06" y="273.47" width="11.43" height="13.27" fill="#fa0f0f"/>
<rect x="590.06" y="286.04" width="11.43" height="13.27" fill="#d50000"/>
<rect x="590.06" y="298.61" width="11.43" height="13.27" fill="#e00000"/>
<rect x="590.06" y="311.18" width="11.43" height="13.27" fill="#f60606"/>
<rect x="590.06" y="323.75" width="11.43" height="13.27" fill="#ff1e1e"/>
<rect x="590.06" y="336.32" width="11.43" height="10.38" fill="#e80000"/>
<rect x="600.79" y="233.40" width="11.43" height="13.20" fill="#ffffff"/>
<rect x="600.79" y="245.90" width="11.43" height="13.00" fill="#ffffff"/>
<rect x="600.79" y="260.90" width="11.43" height="13.27" fill="#cd0000"/>
<rect x="600.79" y="273.47" width="11.43" height="13.27" fill="#fa0f0f"/>
<rect x="600.79" y="286.04" width="11.43" height="13.27" fill="#e80000"/>
<rect x="600.79" y="298.61" width="11.43" height="13.27" fill="#e80000"/>
<rect x="600.79" y="311.18" width="11.43" height="13.27" fill="#ff1e1e"/>
<rect x="600.79" y="323.75" width="11.43" height="13.27" fill="#ff3737"/>
<rect x="600.79" y="336.32" width="11.43" height="10.38" fill="#ff7272"/>
<rect x="611.52" y="233.40" width="11.43" height="13.20" fill="#ff4949"/>
<rect x="611.52" y="245.90" width="11.43" height="13.00" fill="#ffffff"/>
<rect x="611.52" y="260.90" width="11.43" height="13.27" fill="#ff5555"/>
<rect x="611.52" y="273.47" width="11.43" height="13.27" fill="#ff4949"/>
<rect x="611.52" y="286.04" width="11.43" height="13.27" fill="#ff9696"/>
<rect x="611.52" y="298.61" width="11.43" height="13.27" fill="#ff4949"/>
<rect x="611.52" y="311.18" width="11.43" height="13.27" fill="#ff8d8d"/>
<rect x="611.52" y="323.75" width="11.43" height="13.27" fill="#fc1515"/>
<rect x="611.52" y="336.32" width="11.43" height="10.38" fill="#ff1e1e"/>
<rect x="622.25" y="233.40" width="11.43" height="13.20" fill="#000000"/>
<rect x="622.25" y="245.90" width="11.43" height="13.00" fill="#340000"/>
<rect x="622.25" y="260.90" width="11.43" height="13.27" fill="#960000"/>
<rect x="622.25" y="273.47" width="11.43" height="13.27" fill="#770000"/>
<rect x="622.25" y="286.04" width="11.43" height="13.27" fill="#540000"/>
<rect x="622.25" y="298.61" width="11.43" height="13.27" fill="#6f0000"/>
<rect x="622.25" y="311.18" width="11.43" height="13.27" fill="#6f0000"/>
<rect x="622.25" y="323.75" width="11.43" height="13.27" fill="#640000"/>
<rect x="622.25" y="336.32" width="11.43" height="10.38" fill="#640000"/>
<rect x="632.98" y="233.40" width="11.43" height="13.20" fill="#ffffff"/>
<rect x="632.98" y="245.90" width="11.43" height="13.00" fill="#ffffff"/>
<rect x="632.98" y="260.90" width="11.43" height="13.27" fill="#fa0f0f"/>
<rect x="632.98" y="273.47" width="11.43" height="13.27" fill="#f40000"/>
<rect x="632.98" y="286.04" width="11.43" height="13.27" fill="#f60606"/>
<rect x="632.98" y="298.61" width="11.43" height="13.27" fill="#fc1515"/>
<rect x="632.98" y="311.18" width="11.43" height="13.27" fill="#ff3030"/>
<rect x="632.98" y="323.75" width="11.43" height="13.27" fill="#f60606"/>
<rect x="632.98" y="336.32" width="11.43" height="10.38" fill="#f60606"/>
<rect x="643.71" y="233.40" width="11.43" height="13.20" fill="#ffffff"/>
<rect x="643.71" y="245.90" width="11.43" height="13.00" fill="#ffffff"/>
<rect x="643.71" y="260.90" width="11.43" height="13.27" fill="#ff6969"/>
<rect x="643.71" y="273.47" width="11.43" height="13.27" fill="#ff5555"/>
<rect x="643.71" y="286.04" width="11.43" height="13.27" fill="#ff5555"/>
<rect x="643.71" y="298.61" width="11.43" height="13.27" fill="#ff5555"/>
<rect x="643.71" y="311.18" width="11.43" height="13.27" fill="#ff6969"/>
<rect x="643.71" y="323.75" width="11.43" height="13.27" fill="#ff5555"/>
<rect x="643.71" y="336.32" width="11.43" height="10.38" fill="#ff5555"/>
</g></g>
<g opacity="0.995">
<rect x="16.3" y="258.8" width="662.3" height="2.6" fill="#ffde00"/>
<text transform="translate(27.2,230) rotate(-90)" text-anchor="middle" font-family="Liberation Sans, sans-serif" font-size="9" font-weight="bold" fill="#111">h</text>
<text transform="translate(27.2,239.3) rotate(-90)" text-anchor="middle" font-family="Liberation Sans, sans-serif" font-size="9" font-weight="bold" fill="#111">4</text>
<text transform="translate(27.2,249.5) rotate(-90)" text-anchor="middle" font-family="Liberation Sans, sans-serif" font-size="9" font-weight="bold" fill="#111">0</text>
<text transform="translate(27.2,267) rotate(-90)" text-anchor="middle" font-family="Liberation Sans, sans-serif" font-size="9" font-weight="bold" fill="#111">0</text>
<text transform="translate(27.2,280.4) rotate(-90)" text-anchor="middle" font-family="Liberation Sans, sans-serif" font-size="9" font-weight="bold" fill="#111">1</text>
<text transform="translate(27.2,293.4) rotate(-90)" text-anchor="middle" font-family="Liberation Sans, sans-serif" font-size="9" font-weight="bold" fill="#111">4</text>
<text transform="translate(27.2,303.9) rotate(-90)" text-anchor="middle" font-family="Liberation Sans, sans-serif" font-size="9" font-weight="bold" fill="#111">8</text>
<text transform="translate(27.2,313.8) rotate(-90)" text-anchor="middle" font-family="Liberation Sans, sans-serif" font-size="9" font-weight="bold" fill="#111">12</text>
<text transform="translate(27.2,327.9) rotate(-90)" text-anchor="middle" font-family="Liberation Sans, sans-serif" font-size="9" font-weight="bold" fill="#111">24</text>
<text transform="translate(27.2,342.6) rotate(-90)" text-anchor="middle" font-family="Liberation Sans, sans-serif" font-size="9" font-weight="bold" fill="#111">48</text>
<text x="664" y="243.7" font-family="Liberation Sans, sans-serif" font-size="14.5" fill="#111">P</text>
<text x="664" y="284.4" font-family="Liberation Sans, sans-serif" font-size="14.5" fill="#111">G</text>
<text x="5" y="17" font-family="Liberation Sans, sans-serif" font-size="14" fill="#111">A</text>
<text x="4" y="458" font-family="Liberation Sans, sans-serif" font-size="14" fill="#111">B</text>
<polygon points="530.40,224.70 531.40,227.62 534.49,227.67 532.02,229.53 532.93,232.48 530.40,230.70 527.87,232.48 528.78,229.53 526.31,227.67 529.40,227.62" fill="#ff1010"/>
<polygon points="627.40,224.70 628.40,227.62 631.49,227.67 629.02,229.53 629.93,232.48 627.40,230.70 624.87,232.48 625.78,229.53 623.31,227.67 626.40,227.62" fill="#ff1010"/>
<text transform="translate(42.27,225.2) rotate(-90) scale(0.925,1)" font-family="Liberation Sans, sans-serif" font-size="10" fill="#111">CK_Unigene_BMK.25595</text>
<text transform="translate(52.40,225.2) rotate(-90) scale(0.925,1)" font-family="Liberation Sans, sans-serif" font-size="10" fill="#111">T_Unigene_BMK.6772</text>
<text transform="translate(62.93,225.2) rotate(-90) scale(0.925,1)" font-family="Liberation Sans, sans-serif" font-size="10" fill="#111">T_Unigene_BMK.14938</text>
<text transform="translate(73.66,225.2) rotate(-90) scale(0.925,1)" font-family="Liberation Sans, sans-serif" font-size="10" fill="#111">T_Unigene_BMK.8000</text>
<text transform="translate(84.48,225.2) rotate(-90) scale(0.925,1)" font-family="Liberation Sans, sans-serif" font-size="10" fill="#111">CK_Unigene_BMK.24725</text>
<text transform="translate(95.62,225.2) rotate(-90) scale(0.925,1)" font-family="Liberation Sans, sans-serif" font-size="10" fill="#111">CK_Unigene_BMK.22542</text>
<text transform="translate(117.08,225.2) rotate(-90) scale(0.925,1)" font-family="Liberation Sans, sans-serif" font-size="10" fill="#111">T_Unigene_BMK.5218</text>
<text transform="translate(127.86,225.2) rotate(-90) scale(0.925,1)" font-family="Liberation Sans, sans-serif" font-size="10" fill="#111">T_Unigene_BMK.23614</text>
<text transform="translate(139.03,225.2) rotate(-90) scale(0.925,1)" font-family="Liberation Sans, sans-serif" font-size="10" fill="#111">CK_Unigene_BMK.12374</text>
<text transform="translate(149.77,225.2) rotate(-90) scale(0.925,1)" font-family="Liberation Sans, sans-serif" font-size="10" fill="#111">CK_Unigene_BMK.7595</text>
<text transform="translate(160.50,225.2) rotate(-90) scale(0.925,1)" font-family="Liberation Sans, sans-serif" font-size="10" fill="#111">CK_Unigene_BMK.22403</text>
<text transform="translate(171.03,225.2) rotate(-90) scale(0.925,1)" font-family="Liberation Sans, sans-serif" font-size="10" fill="#111">T_Unigene_BMK.493</text>
<text transform="translate(202.41,225.2) rotate(-90) scale(0.925,1)" font-family="Liberation Sans, sans-serif" font-size="10" fill="#111">CK_Unigene_BMK.15695</text>
<text transform="translate(213.05,225.2) rotate(-90) scale(0.925,1)" font-family="Liberation Sans, sans-serif" font-size="10" fill="#111">CK_Unigene_BMK.25820</text>
<text transform="translate(224.18,225.2) rotate(-90) scale(0.925,1)" font-family="Liberation Sans, sans-serif" font-size="10" fill="#111">T_Unigene_BMK.12571</text>
<text transform="translate(235.35,225.2) rotate(-90) scale(0.925,1)" font-family="Liberation Sans, sans-serif" font-size="10" fill="#111">T_Unigene_BMK.16131</text>
<text transform="translate(246.24,225.2) rotate(-90) scale(0.925,1)" font-family="Liberation Sans, sans-serif" font-size="10" fill="#111">T_Unigene_BMK.21357</text>
<text transform="translate(257.66,225.2) rotate(-90) scale(0.925,1)" font-family="Liberation Sans, sans-serif" font-size="10" fill="#111">CK_Unigene_BMK.22604</text>
<text transform="translate(268.69,225.2) rotate(-90) scale(0.925,1)" font-family="Liberation Sans, sans-serif" font-size="10" fill="#111">CK_Unigene_BMK.23233</text>
<text transform="translate(289.75,225.2) rotate(-90) scale(0.925,1)" font-family="Liberation Sans, sans-serif" font-size="10" fill="#111">T_Unigene_BMK.12799</text>
<text transform="translate(311.22,225.2) rotate(-90) scale(0.925,1)" font-family="Liberation Sans, sans-serif" font-size="10" fill="#111">T_Unigene_BMK.9771</text>
<text transform="translate(321.95,225.2) rotate(-90) scale(0.925,1)" font-family="Liberation Sans, sans-serif" font-size="10" fill="#111">T_Unigene_BMK.25031</text>
<text transform="translate(333.07,225.2) rotate(-90) scale(0.925,1)" font-family="Liberation Sans, sans-serif" font-size="10" fill="#111">T_Unigene_BMK.22946</text>
<text transform="translate(343.61,225.2) rotate(-90) scale(0.925,1)" font-family="Liberation Sans, sans-serif" font-size="10" fill="#111">T_Unigene_BMK.9579</text>
<text transform="translate(354.64,225.2) rotate(-90) scale(0.925,1)" font-family="Liberation Sans, sans-serif" font-size="10" fill="#111">CK_Unigene_BMK.25537</text>
<text transform="translate(365.67,225.2) rotate(-90) scale(0.925,1)" font-family="Liberation Sans, sans-serif" font-size="10" fill="#111">T_Unigene_BMK.23965</text>
<text transform="translate(376.40,225.2) rotate(-90) scale(0.925,1)" font-family="Liberation Sans, sans-serif" font-size="10" fill="#111">CK_Unigene_BMK.12579</text>
<text transform="translate(387.13,225.2) rotate(-90) scale(0.925,1)" font-family="Liberation Sans, sans-serif" font-size="10" fill="#111">T_Unigene_BMK.4643</text>
<text transform="translate(406.29,225.2) rotate(-90) scale(0.925,1)" font-family="Liberation Sans, sans-serif" font-size="10" fill="#111">CK_Unigene_BMK.2883</text>
<text transform="translate(417.02,225.2) rotate(-90) scale(0.925,1)" font-family="Liberation Sans, sans-serif" font-size="10" fill="#111">CK_Unigene_BMK.11964</text>
<text transform="translate(427.95,225.2) rotate(-90) scale(0.925,1)" font-family="Liberation Sans, sans-serif" font-size="10" fill="#111">T_Unigene_BMK.5748</text>
<text transform="translate(438.58,225.2) rotate(-90) scale(0.925,1)" font-family="Liberation Sans, sans-serif" font-size="10" fill="#111">T_Unigene_BMK.13668</text>
<text transform="translate(449.41,225.2) rotate(-90) scale(0.925,1)" font-family="Liberation Sans, sans-serif" font-size="10" fill="#111">CK_Unigene_BMK.21538</text>
<text transform="translate(469.97,225.2) rotate(-90) scale(0.925,1)" font-family="Liberation Sans, sans-serif" font-size="10" fill="#111">T_Unigene_BMK.15418</text>
<text transform="translate(480.70,225.2) rotate(-90) scale(0.925,1)" font-family="Liberation Sans, sans-serif" font-size="10" fill="#111">T_Unigene_BMK.4853</text>
<text transform="translate(491.43,225.2) rotate(-90) scale(0.925,1)" font-family="Liberation Sans, sans-serif" font-size="10" fill="#111">T_Unigene_BMK.16550</text>
<text transform="translate(502.16,225.2) rotate(-90) scale(0.925,1)" font-family="Liberation Sans, sans-serif" font-size="10" fill="#111">T_Unigene_BMK.24891</text>
<text transform="translate(512.88,225.2) rotate(-90) scale(0.925,1)" font-family="Liberation Sans, sans-serif" font-size="10" fill="#111">T_Unigene_BMK.14721</text>
<text transform="translate(523.62,225.2) rotate(-90) scale(0.925,1)" font-family="Liberation Sans, sans-serif" font-size="10" fill="#111">T_Unigene_BMK.3140</text>
<text transform="translate(534.34,225.2) rotate(-90) scale(0.925,1)" font-family="Liberation Sans, sans-serif" font-size="10" fill="#111">T_Unigene_BMK.9178</text>
<text transform="translate(545.07,225.2) rotate(-90) scale(0.925,1)" font-family="Liberation Sans, sans-serif" font-size="10" fill="#111">T_Unigene_BMK.13540</text>
<text transform="translate(588.40,225.2) rotate(-90) scale(0.925,1)" font-family="Liberation Sans, sans-serif" font-size="10" fill="#111">T_Unigene_BMK.11511</text>
<text transform="translate(599.53,225.2) rotate(-90) scale(0.925,1)" font-family="Liberation Sans, sans-serif" font-size="10" fill="#111">CK_Unigene_BMK.26023</text>
<text transform="translate(620.78,225.2) rotate(-90) scale(0.925,1)" font-family="Liberation Sans, sans-serif" font-size="10" fill="#111">T_Unigene_BMK.22123</text>
<text transform="translate(632.62,225.2) rotate(-90) scale(0.925,1)" font-family="Liberation Sans, sans-serif" font-size="10" fill="#111">T_Unigene_BMK.16395</text>
<text transform="translate(33.67,349.2) rotate(90) scale(0.965,1)" font-family="Liberation Sans, sans-serif" font-size="9.9" fill="#111">CL10551.Contig1</text>
<text transform="translate(44.40,349.2) rotate(90) scale(0.965,1)" font-family="Liberation Sans, sans-serif" font-size="9.9" fill="#111">CL3448.Contig1</text>
<text transform="translate(55.13,349.2) rotate(90) scale(0.965,1)" font-family="Liberation Sans, sans-serif" font-size="9.9" fill="#111">CL3448.Contig2</text>
<text transform="translate(65.86,349.2) rotate(90) scale(0.965,1)" font-family="Liberation Sans, sans-serif" font-size="9.9" fill="#111">CL8172.Contig1</text>
<text transform="translate(76.59,349.2) rotate(90) scale(0.965,1)" font-family="Liberation Sans, sans-serif" font-size="9.9" fill="#111">CL10632.Contig1</text>
<text transform="translate(87.32,349.2) rotate(90) scale(0.965,1)" font-family="Liberation Sans, sans-serif" font-size="9.9" fill="#111">CL24287.Contig1</text>
<text transform="translate(98.05,349.2) rotate(90) scale(0.965,1)" font-family="Liberation Sans, sans-serif" font-size="9.9" fill="#111">CL22573.Contig1</text>
<text transform="translate(108.78,349.2) rotate(90) scale(0.965,1)" font-family="Liberation Sans, sans-serif" font-size="9.9" fill="#111">CL3143.Contig2</text>
<text transform="translate(119.51,349.2) rotate(90) scale(0.965,1)" font-family="Liberation Sans, sans-serif" font-size="9.9" fill="#111">CL10445.Contig1</text>
<text transform="translate(130.23,349.2) rotate(90) scale(0.965,1)" font-family="Liberation Sans, sans-serif" font-size="9.9" fill="#111">CL2468.Contig1</text>
<text transform="translate(141.47,349.2) rotate(90) scale(0.965,1)" font-family="Liberation Sans, sans-serif" font-size="9.9" fill="#111">CL2746.Contig1</text>
<text transform="translate(152.19,349.2) rotate(90) scale(0.965,1)" font-family="Liberation Sans, sans-serif" font-size="9.9" fill="#111">CL8663.Contig1</text>
<text transform="translate(162.92,349.2) rotate(90) scale(0.965,1)" font-family="Liberation Sans, sans-serif" font-size="9.9" fill="#111">CL19062.Contig1</text>
<text transform="translate(173.66,349.2) rotate(90) scale(0.965,1)" font-family="Liberation Sans, sans-serif" font-size="9.9" fill="#111">CL18355.Contig1</text>
<text transform="translate(184.38,349.2) rotate(90) scale(0.965,1)" font-family="Liberation Sans, sans-serif" font-size="9.9" fill="#111">CL23202.Contig1</text>
<text transform="translate(195.11,349.2) rotate(90) scale(0.965,1)" font-family="Liberation Sans, sans-serif" font-size="9.9" fill="#111">CL278.Contig5</text>
<text transform="translate(205.84,349.2) rotate(90) scale(0.965,1)" font-family="Liberation Sans, sans-serif" font-size="9.9" fill="#111">CL278.Contig7</text>
<text transform="translate(216.57,349.2) rotate(90) scale(0.965,1)" font-family="Liberation Sans, sans-serif" font-size="9.9" fill="#111">CL6534.Contig1</text>
<text transform="translate(227.30,349.2) rotate(90) scale(0.965,1)" font-family="Liberation Sans, sans-serif" font-size="9.9" fill="#111">CL12037.Contig1</text>
<text transform="translate(238.03,349.2) rotate(90) scale(0.965,1)" font-family="Liberation Sans, sans-serif" font-size="9.9" fill="#111">CL9302.Contig1</text>
<text transform="translate(249.16,349.2) rotate(90) scale(0.965,1)" font-family="Liberation Sans, sans-serif" font-size="9.9" fill="#111">CL3074.Contig1</text>
<text transform="translate(259.89,349.2) rotate(90) scale(0.965,1)" font-family="Liberation Sans, sans-serif" font-size="9.9" fill="#111">CL8878.Contig1</text>
<text transform="translate(270.62,349.2) rotate(90) scale(0.965,1)" font-family="Liberation Sans, sans-serif" font-size="9.9" fill="#111">CL20332.Contig1</text>
<text transform="translate(281.35,349.2) rotate(90) scale(0.965,1)" font-family="Liberation Sans, sans-serif" font-size="9.9" fill="#111">CL6254.Contig1</text>
<text transform="translate(292.08,349.2) rotate(90) scale(0.965,1)" font-family="Liberation Sans, sans-serif" font-size="9.9" fill="#111">CL8535.Contig1</text>
<text transform="translate(302.81,349.2) rotate(90) scale(0.965,1)" font-family="Liberation Sans, sans-serif" font-size="9.9" fill="#111">CL13999.Contig1/2</text>
<text transform="translate(313.55,349.2) rotate(90) scale(0.965,1)" font-family="Liberation Sans, sans-serif" font-size="9.9" fill="#111">CL12322.Contig1</text>
<text transform="translate(324.27,349.2) rotate(90) scale(0.965,1)" font-family="Liberation Sans, sans-serif" font-size="9.9" fill="#111">CL12247.Contig1</text>
<text transform="translate(335.00,349.2) rotate(90) scale(0.965,1)" font-family="Liberation Sans, sans-serif" font-size="9.9" fill="#111">CL11535.Contig1</text>
<text transform="translate(345.54,349.2) rotate(90) scale(0.965,1)" font-family="Liberation Sans, sans-serif" font-size="9.9" fill="#111">CL22641.Contig1</text>
<text transform="translate(356.26,349.2) rotate(90) scale(0.965,1)" font-family="Liberation Sans, sans-serif" font-size="9.9" fill="#111">CL11178.Contig1</text>
<text transform="translate(367.00,349.2) rotate(90) scale(0.965,1)" font-family="Liberation Sans, sans-serif" font-size="9.9" fill="#111">CL9150.Contig1</text>
<text transform="translate(377.73,349.2) rotate(90) scale(0.965,1)" font-family="Liberation Sans, sans-serif" font-size="9.9" fill="#111">CL13071.Contig1</text>
<text transform="translate(388.46,349.2) rotate(90) scale(0.965,1)" font-family="Liberation Sans, sans-serif" font-size="9.9" fill="#111">CL12373.Contig1</text>
<text transform="translate(399.19,349.2) rotate(90) scale(0.965,1)" font-family="Liberation Sans, sans-serif" font-size="9.9" fill="#111">CL13486.Contig1</text>
<text transform="translate(409.92,349.2) rotate(90) scale(0.965,1)" font-family="Liberation Sans, sans-serif" font-size="9.9" fill="#111">CL7213.Contig2</text>
<text transform="translate(420.65,349.2) rotate(90) scale(0.965,1)" font-family="Liberation Sans, sans-serif" font-size="9.9" fill="#111">CL7213.Contig1</text>
<text transform="translate(431.38,349.2) rotate(90) scale(0.965,1)" font-family="Liberation Sans, sans-serif" font-size="9.9" fill="#111">CL10426.Contig1</text>
<text transform="translate(442.11,349.2) rotate(90) scale(0.965,1)" font-family="Liberation Sans, sans-serif" font-size="9.9" fill="#111">CL2674.Contig1</text>
<text transform="translate(452.44,349.2) rotate(90) scale(0.965,1)" font-family="Liberation Sans, sans-serif" font-size="9.9" fill="#111">CL5066.Contig1</text>
<text transform="translate(463.17,349.2) rotate(90) scale(0.965,1)" font-family="Liberation Sans, sans-serif" font-size="9.9" fill="#111">CL349.Contig1/2/3/5</text>
<text transform="translate(473.90,349.2) rotate(90) scale(0.965,1)" font-family="Liberation Sans, sans-serif" font-size="9.9" fill="#111">CL26896.Contig1</text>
<text transform="translate(484.63,349.2) rotate(90) scale(0.965,1)" font-family="Liberation Sans, sans-serif" font-size="9.9" fill="#111">CL1369.Contig1/2/3</text>
<text transform="translate(495.36,349.2) rotate(90) scale(0.965,1)" font-family="Liberation Sans, sans-serif" font-size="9.9" fill="#111">CL12667.Contig1</text>
<text transform="translate(506.09,349.2) rotate(90) scale(0.965,1)" font-family="Liberation Sans, sans-serif" font-size="9.9" fill="#111">CL6709.Contig1</text>
<text transform="translate(527.54,349.2) rotate(90) scale(0.965,1)" font-family="Liberation Sans, sans-serif" font-size="9.9" fill="#111">CL2531.Contig1/4/5/6/7</text>
<text transform="translate(538.27,349.2) rotate(90) scale(0.965,1)" font-family="Liberation Sans, sans-serif" font-size="9.9" fill="#111">CL16464.Contig1</text>
<text transform="translate(549.21,349.2) rotate(90) scale(0.965,1)" font-family="Liberation Sans, sans-serif" font-size="9.9" fill="#111">CL6199.Contig1</text>
<text transform="translate(559.94,349.2) rotate(90) scale(0.965,1)" font-family="Liberation Sans, sans-serif" font-size="9.9" fill="#111">CL11135.Contig1</text>
<text transform="translate(570.67,349.2) rotate(90) scale(0.965,1)" font-family="Liberation Sans, sans-serif" font-size="9.9" fill="#111">CL16785.Contig1</text>
<text transform="translate(582.00,349.2) rotate(90) scale(0.965,1)" font-family="Liberation Sans, sans-serif" font-size="9.9" fill="#111">CL3230.Contig1</text>
<text transform="translate(592.73,349.2) rotate(90) scale(0.965,1)" font-family="Liberation Sans, sans-serif" font-size="9.9" fill="#111">CL2958.Contig1</text>
<text transform="translate(603.46,349.2) rotate(90) scale(0.965,1)" font-family="Liberation Sans, sans-serif" font-size="9.9" fill="#111">CL2958.Contig2</text>
<text transform="translate(614.38,349.2) rotate(90) scale(0.965,1)" font-family="Liberation Sans, sans-serif" font-size="9.9" fill="#111">CL22885.Contig1</text>
<text transform="translate(625.12,349.2) rotate(90) scale(0.965,1)" font-family="Liberation Sans, sans-serif" font-size="9.9" fill="#111">CL3716.Contig2</text>
<text transform="translate(635.85,349.2) rotate(90) scale(0.965,1)" font-family="Liberation Sans, sans-serif" font-size="9.9" fill="#111">CL16034.Contig1</text>
<text transform="translate(646.58,349.2) rotate(90) scale(0.965,1)" font-family="Liberation Sans, sans-serif" font-size="9.9" fill="#111">CL3716.Contig1</text>
<text transform="translate(55,103.5) rotate(-90) scale(0.985,1)" font-family="Liberation Sans, sans-serif" font-size="12" fill="#111" stroke="#111" stroke-width="0.3">AACT</text>
<text transform="translate(77.4,103.5) rotate(-90) scale(0.985,1)" font-family="Liberation Sans, sans-serif" font-size="12" fill="#111" stroke="#111" stroke-width="0.3">HMGS</text>
<text transform="translate(99.3,103.5) rotate(-90) scale(0.985,1)" font-family="Liberation Sans, sans-serif" font-size="12" fill="#111" stroke="#111" stroke-width="0.3">HMGR</text>
<text transform="translate(119,103.5) rotate(-90) scale(0.985,1)" font-family="Liberation Sans, sans-serif" font-size="12" fill="#111" stroke="#111" stroke-width="0.3">MK</text>
<text transform="translate(161.3,102.0) rotate(-90) scale(0.985,1)" font-family="Liberation Sans, sans-serif" font-size="12" fill="#111" stroke="#111" stroke-width="0.3">PMK</text>
<text transform="translate(216.7,103.1) rotate(-90) scale(0.985,1)" font-family="Liberation Sans, sans-serif" font-size="12" fill="#111" stroke="#111" stroke-width="0.3">MDD</text>
<text transform="translate(240.5,102.5) rotate(-90) scale(0.985,1)" font-family="Liberation Sans, sans-serif" font-size="12" fill="#111" stroke="#111" stroke-width="0.3">DXS</text>
<text transform="translate(257.8,102.5) rotate(-90) scale(0.985,1)" font-family="Liberation Sans, sans-serif" font-size="12" fill="#111" stroke="#111" stroke-width="0.3">DXR</text>
<text transform="translate(273.4,102.5) rotate(-90) scale(0.985,1)" font-family="Liberation Sans, sans-serif" font-size="12" fill="#111" stroke="#111" stroke-width="0.3">MCT</text>
<text transform="translate(297,102.1) rotate(-90) scale(0.985,1)" font-family="Liberation Sans, sans-serif" font-size="12" fill="#111" stroke="#111" stroke-width="0.3">CMK</text>
<text transform="translate(311.6,102.1) rotate(-90) scale(0.985,1)" font-family="Liberation Sans, sans-serif" font-size="12" fill="#111" stroke="#111" stroke-width="0.3">MDS</text>
<text transform="translate(322.6,102.1) rotate(-90) scale(0.985,1)" font-family="Liberation Sans, sans-serif" font-size="12" fill="#111" stroke="#111" stroke-width="0.3">HDS</text>
<text transform="translate(335,102.1) rotate(-90) scale(0.985,1)" font-family="Liberation Sans, sans-serif" font-size="12" fill="#111" stroke="#111" stroke-width="0.3">HDR</text>
<text transform="translate(350.4,102.3) rotate(-90) scale(0.985,1)" font-family="Liberation Sans, sans-serif" font-size="12" fill="#111" stroke="#111" stroke-width="0.3">IDI</text>
<text transform="translate(396.2,101.7) rotate(-90) scale(0.985,1)" font-family="Liberation Sans, sans-serif" font-size="12" fill="#111" stroke="#111" stroke-width="0.3">GPS</text>
<text transform="translate(448.2,101.7) rotate(-90) scale(0.985,1)" font-family="Liberation Sans, sans-serif" font-size="12" fill="#111" stroke="#111" stroke-width="0.3">FPS</text>
<text transform="translate(475,100.9) rotate(-90) scale(0.985,1)" font-family="Liberation Sans, sans-serif" font-size="12" fill="#111" stroke="#111" stroke-width="0.3">SS</text>
<text transform="translate(503.4,100.7) rotate(-90) scale(0.985,1)" font-family="Liberation Sans, sans-serif" font-size="12" fill="#111" stroke="#111" stroke-width="0.3">SE</text>
<text transform="translate(577.4,100.4) rotate(-90) scale(0.985,1)" font-family="Liberation Sans, sans-serif" font-size="12" fill="#111" stroke="#111" stroke-width="0.3">OSC</text>
<text transform="translate(649,100.4) rotate(-90) scale(0.985,1)" font-family="Liberation Sans, sans-serif" font-size="12" fill="#111" stroke="#111" stroke-width="0.3">UGT</text>
<text transform="translate(611,51.6) rotate(-90) scale(0.985,1)" font-family="Liberation Sans, sans-serif" font-size="12" fill="#111" stroke="#111" stroke-width="0.3">P450</text>
<text transform="translate(45.9,67) rotate(-90)" font-family="Liberation Sans, sans-serif" font-size="12.4" font-weight="bold" fill="#00ff00">Acetyl-CoA</text>
<text transform="translate(218,67.5) rotate(-90)" font-family="Liberation Sans, sans-serif" font-size="12.4" font-weight="bold" fill="#00ff00">IPP</text>
<text transform="translate(238.3,73.5) rotate(-90)" font-family="Liberation Sans, sans-serif" font-size="12.4" font-weight="bold" fill="#00ff00">G3P +</text>
<text transform="translate(249.7,73.5) rotate(-90)" font-family="Liberation Sans, sans-serif" font-size="12.4" font-weight="bold" fill="#00ff00">Pyruvate</text>
<text transform="translate(335.5,73) rotate(-90)" font-family="Liberation Sans, sans-serif" font-size="12.4" font-weight="bold" fill="#00ff00">IPP</text>
<text transform="translate(370.7,73) rotate(-90)" font-family="Liberation Sans, sans-serif" font-size="12.4" font-weight="bold" fill="#00ff00">DMAPP</text>
<text transform="translate(415.4,73) rotate(-90)" font-family="Liberation Sans, sans-serif" font-size="12.4" font-weight="bold" fill="#00ff00">GPP</text>
<text transform="translate(459.3,69.6) rotate(-90)" font-family="Liberation Sans, sans-serif" font-size="12.4" font-weight="bold" fill="#00ff00">FPP</text>
<text transform="translate(486.5,71.5) rotate(-90)" font-family="Liberation Sans, sans-serif" font-size="12.4" font-weight="bold" fill="#00ff00">Squalene</text>
<text transform="translate(515.2,70.7) rotate(-90)" font-family="Liberation Sans, sans-serif" font-size="12.4" font-weight="bold" fill="#00ff00">2,3-OS</text>
<text transform="translate(594.9,71.6) rotate(-90)" font-family="Liberation Sans, sans-serif" font-size="12.4" font-weight="bold" fill="#00ff00">β-Amyrin</text>
<text transform="translate(624.8,70.7) rotate(-90)" font-family="Liberation Sans, sans-serif" font-size="12.4" font-weight="bold" fill="#00ff00">Sapogenins</text>
<text transform="translate(658.9,69.3) rotate(-90)" font-family="Liberation Sans, sans-serif" font-size="12.4" font-weight="bold" fill="#00ff00">Saponins</text>
<text x="121.6" y="37.7" text-anchor="middle" font-family="Liberation Sans, sans-serif" font-size="12" font-weight="bold" fill="#00ff00">MVA</text>
<text x="121.6" y="50.4" text-anchor="middle" font-family="Liberation Sans, sans-serif" font-size="12" font-weight="bold" fill="#00ff00">Pathway</text>
<text x="292.3" y="35.8" text-anchor="middle" font-family="Liberation Sans, sans-serif" font-size="12" font-weight="bold" fill="#00ff00">MEP</text>
<text x="292.3" y="48.6" text-anchor="middle" font-family="Liberation Sans, sans-serif" font-size="12" font-weight="bold" fill="#00ff00">Pathway</text>
<line x1="31.5" y1="20.6" x2="31.5" y2="98.5" stroke="#333" stroke-width="1.3"/>
<line x1="224.6" y1="28.4" x2="224.6" y2="97.2" stroke="#333" stroke-width="1.3"/>
<line x1="337.5" y1="23.6" x2="337.5" y2="55" stroke="#333" stroke-width="1.3"/>
<line x1="337.5" y1="68" x2="337.5" y2="106" stroke="#333" stroke-width="1.3"/>
<line x1="522.6" y1="25.5" x2="522.6" y2="54" stroke="#333" stroke-width="1.3"/>
<line x1="522.6" y1="66" x2="522.6" y2="106" stroke="#333" stroke-width="1.3"/>
<line x1="54" y1="62" x2="192.9" y2="62" stroke="#00ff00" stroke-width="1.35"/>
<polygon points="200.5,62 191.9,58.5 191.9,65.5" fill="#00ff00"/>
<line x1="256.7" y1="62.6" x2="309.0" y2="62.6" stroke="#00ff00" stroke-width="1.35"/>
<polygon points="316.6,62.6 308.0,59.1 308.0,66.1" fill="#00ff00"/>
<line x1="338" y1="62.5" x2="350.0" y2="62.5" stroke="#00ff00" stroke-width="1.35"/>
<polygon points="357.6,62.5 349.0,59.0 349.0,66.0" fill="#00ff00"/>
<line x1="378.1" y1="62.5" x2="392.0" y2="62.5" stroke="#00ff00" stroke-width="1.35"/>
<polygon points="399.6,62.5 391.0,59.0 391.0,66.0" fill="#00ff00"/>
<line x1="422" y1="62.5" x2="435.9" y2="62.5" stroke="#00ff00" stroke-width="1.35"/>
<polygon points="443.5,62.5 434.9,59.0 434.9,66.0" fill="#00ff00"/>
<line x1="462.7" y1="61" x2="468.2" y2="61" stroke="#00ff00" stroke-width="1.35"/>
<polygon points="475.8,61 467.2,57.5 467.2,64.5" fill="#00ff00"/>
<line x1="489.7" y1="61" x2="494.5" y2="61" stroke="#00ff00" stroke-width="1.35"/>
<polygon points="502.1,61 493.5,57.5 493.5,64.5" fill="#00ff00"/>
<line x1="520.5" y1="60.5" x2="571.4" y2="60.5" stroke="#00ff00" stroke-width="1.35"/>
<polygon points="579,60.5 570.4,57.0 570.4,64.0" fill="#00ff00"/>
<line x1="599" y1="60.5" x2="606.6999999999999" y2="60.5" stroke="#00ff00" stroke-width="1.35"/>
<polygon points="614.3,60.5 605.6999999999999,57.0 605.6999999999999,64.0" fill="#00ff00"/>
<line x1="629" y1="60.5" x2="639.4" y2="60.5" stroke="#00ff00" stroke-width="1.35"/>
<polygon points="647,60.5 638.4,57.0 638.4,64.0" fill="#00ff00"/>
<path d="M214.5,38.2 C215.5,24 222,13.6 251,12.7 L283,12.7 C320,13 343,15.6 353.2,27.3" fill="none" stroke="#00ff00" stroke-width="1.3"/>
<polygon points="357.2,32.3 348.6,28.4 354.6,23.8" fill="#00ff00"/>
<line x1="27.9" y1="112.6" x2="62.9" y2="112.6" stroke="#2a2a2a" stroke-width="1.5"/>
<line x1="67.7" y1="112.6" x2="75.2" y2="112.6" stroke="#2a2a2a" stroke-width="1.5"/>
<line x1="79.6" y1="112.6" x2="105" y2="112.6" stroke="#2a2a2a" stroke-width="1.5"/>
<line x1="109.7" y1="112.6" x2="119.9" y2="112.6" stroke="#2a2a2a" stroke-width="1.5"/>
<line x1="123.4" y1="112.6" x2="190.4" y2="112.6" stroke="#2a2a2a" stroke-width="1.5"/>
<line x1="195.7" y1="112.6" x2="223.7" y2="112.6" stroke="#2a2a2a" stroke-width="1.5"/>
<line x1="228.1" y1="112.6" x2="244.6" y2="112.6" stroke="#2a2a2a" stroke-width="1.5"/>
<line x1="247.9" y1="112.6" x2="258.4" y2="112.6" stroke="#2a2a2a" stroke-width="1.5"/>
<line x1="261.9" y1="112.6" x2="277.8" y2="112.6" stroke="#2a2a2a" stroke-width="1.5"/>
<line x1="283.5" y1="112.6" x2="297" y2="112.6" stroke="#2a2a2a" stroke-width="1.5"/>
<line x1="302.5" y1="112.6" x2="312" y2="112.6" stroke="#2a2a2a" stroke-width="1.5"/>
<line x1="315.7" y1="112.6" x2="322.4" y2="112.6" stroke="#2a2a2a" stroke-width="1.5"/>
<line x1="326" y1="112.6" x2="333.1" y2="112.6" stroke="#2a2a2a" stroke-width="1.5"/>
<line x1="336.8" y1="112.6" x2="353.4" y2="112.6" stroke="#2a2a2a" stroke-width="1.5"/>
<line x1="357.4" y1="112.6" x2="426.2" y2="112.6" stroke="#2a2a2a" stroke-width="1.5"/>
<line x1="430.6" y1="112.6" x2="457.7" y2="112.6" stroke="#2a2a2a" stroke-width="1.5"/>
<line x1="462.1" y1="112.6" x2="479.3" y2="112.6" stroke="#2a2a2a" stroke-width="1.5"/>
<line x1="483.7" y1="112.6" x2="522.7" y2="112.6" stroke="#2a2a2a" stroke-width="1.5"/>
<line x1="527.4" y1="112.6" x2="620.2" y2="112.6" stroke="#2a2a2a" stroke-width="1.5"/>
<line x1="624.9" y1="112.6" x2="663.1" y2="112.6" stroke="#2a2a2a" stroke-width="1.5"/>
<defs><linearGradient id="lg" x1="0" y1="0" x2="0" y2="1">
<stop offset="0" stop-color="#000"/><stop offset="0.2" stop-color="#500000"/><stop offset="0.4" stop-color="#c00000"/><stop offset="0.5" stop-color="#f00000"/><stop offset="0.62" stop-color="#ff2020"/><stop offset="0.82" stop-color="#ff8c8c"/><stop offset="1" stop-color="#fff4f4"/></linearGradient></defs>
<rect x="655.9" y="133.1" width="10.1" height="53.6" fill="url(#lg)"/>
<text transform="translate(653.4,137.20000000000002) scale(1.06,0.95)" text-anchor="end" font-family="Liberation Sans, sans-serif" font-size="9" fill="#111">3</text>
<line x1="654.2" y1="134.3" x2="656" y2="134.3" stroke="#333" stroke-width="0.7"/>
<text transform="translate(653.4,149.0) scale(1.06,0.95)" text-anchor="end" font-family="Liberation Sans, sans-serif" font-size="9" fill="#111">2</text>
<line x1="654.2" y1="146.1" x2="656" y2="146.1" stroke="#333" stroke-width="0.7"/>
<text transform="translate(653.4,160.20000000000002) scale(1.06,0.95)" text-anchor="end" font-family="Liberation Sans, sans-serif" font-size="9" fill="#111">1</text>
<line x1="654.2" y1="157.3" x2="656" y2="157.3" stroke="#333" stroke-width="0.7"/>
<text transform="translate(653.4,171.20000000000002) scale(1.06,0.95)" text-anchor="end" font-family="Liberation Sans, sans-serif" font-size="9" fill="#111">0</text>
<line x1="654.2" y1="168.3" x2="656" y2="168.3" stroke="#333" stroke-width="0.7"/>
<text transform="translate(653.4,180.9) scale(1.06,0.95)" text-anchor="end" font-family="Liberation Sans, sans-serif" font-size="9" fill="#111">-1</text>
<line x1="654.2" y1="178" x2="656" y2="178" stroke="#333" stroke-width="0.7"/>
<text transform="translate(653.4,191.70000000000002) scale(1.06,0.95)" text-anchor="end" font-family="Liberation Sans, sans-serif" font-size="9" fill="#111">-2</text>
<line x1="654.2" y1="188.8" x2="656" y2="188.8" stroke="#333" stroke-width="0.7"/>
<text transform="translate(677.9,178.9) rotate(-90)" font-family="Liberation Sans, sans-serif" font-size="9.7" fill="#111">logRPKM</text>
<line x1="14.120000000000005" y1="601.2" x2="217.48" y2="601.2" stroke="#34345a" stroke-width="1.2"/>
<line x1="188" y1="479.4" x2="188" y2="601.2" stroke="#74749a" stroke-width="1.4"/>
<line x1="14.12" y1="598.9000000000001" x2="14.12" y2="601.2" stroke="#34345a" stroke-width="0.8"/>
<line x1="28.61" y1="598.9000000000001" x2="28.61" y2="601.2" stroke="#34345a" stroke-width="0.8"/>
<line x1="43.10" y1="598.9000000000001" x2="43.10" y2="601.2" stroke="#34345a" stroke-width="0.8"/>
<line x1="57.59" y1="598.9000000000001" x2="57.59" y2="601.2" stroke="#34345a" stroke-width="0.8"/>
<line x1="72.08" y1="598.9000000000001" x2="72.08" y2="601.2" stroke="#34345a" stroke-width="0.8"/>
<line x1="86.57" y1="598.9000000000001" x2="86.57" y2="601.2" stroke="#34345a" stroke-width="0.8"/>
<line x1="101.06" y1="598.9000000000001" x2="101.06" y2="601.2" stroke="#34345a" stroke-width="0.8"/>
<line x1="115.55" y1="598.9000000000001" x2="115.55" y2="601.2" stroke="#34345a" stroke-width="0.8"/>
<line x1="130.04" y1="598.9000000000001" x2="130.04" y2="601.2" stroke="#34345a" stroke-width="0.8"/>
<line x1="144.53" y1="598.9000000000001" x2="144.53" y2="601.2" stroke="#34345a" stroke-width="0.8"/>
<line x1="159.02" y1="598.9000000000001" x2="159.02" y2="601.2" stroke="#34345a" stroke-width="0.8"/>
<line x1="173.51" y1="598.9000000000001" x2="173.51" y2="601.2" stroke="#34345a" stroke-width="0.8"/>
<line x1="188.00" y1="598.9000000000001" x2="188.00" y2="601.2" stroke="#34345a" stroke-width="0.8"/>
<line x1="202.49" y1="598.9000000000001" x2="202.49" y2="601.2" stroke="#34345a" stroke-width="0.8"/>
<line x1="216.98" y1="598.9000000000001" x2="216.98" y2="601.2" stroke="#34345a" stroke-width="0.8"/>
<text transform="translate(14.12,612.6) scale(0.9,1)" text-anchor="middle" font-family="Liberation Sans, sans-serif" font-size="9.6" fill="#15152a">48</text>
<text transform="translate(101.06,612.6) scale(0.9,1)" text-anchor="middle" font-family="Liberation Sans, sans-serif" font-size="9.6" fill="#15152a">24</text>
<text transform="translate(144.53,612.6) scale(0.9,1)" text-anchor="middle" font-family="Liberation Sans, sans-serif" font-size="9.6" fill="#15152a">12</text>
<text transform="translate(159.02,612.6) scale(0.9,1)" text-anchor="middle" font-family="Liberation Sans, sans-serif" font-size="9.6" fill="#15152a">8</text>
<text transform="translate(173.51,612.6) scale(0.9,1)" text-anchor="middle" font-family="Liberation Sans, sans-serif" font-size="9.6" fill="#15152a">4</text>
<text transform="translate(188.00,612.6) scale(0.9,1)" text-anchor="middle" font-family="Liberation Sans, sans-serif" font-size="9.6" fill="#15152a">0</text>
<text transform="translate(201.09,612.6) scale(0.9,1)" text-anchor="middle" font-family="Liberation Sans, sans-serif" font-size="9.6" fill="#15152a">4</text>
<text transform="translate(216.98,612.6) scale(0.9,1)" text-anchor="middle" font-family="Liberation Sans, sans-serif" font-size="9.6" fill="#15152a">8</text>
<text x="121.7" y="618.0" text-anchor="middle" font-family="Liberation Sans, sans-serif" font-size="9.0" fill="#15152a">(h)</text>
<line x1="188" y1="480.45" x2="190.4" y2="480.45" stroke="#74749a" stroke-width="0.8"/>
<text x="184.4" y="486.71" text-anchor="end" font-family="Liberation Sans, sans-serif" font-size="9.2" fill="#15152a">2.5</text>
<line x1="188" y1="504.60" x2="190.4" y2="504.60" stroke="#74749a" stroke-width="0.8"/>
<text x="184.4" y="508.51" text-anchor="end" font-family="Liberation Sans, sans-serif" font-size="9.2" fill="#15152a">2</text>
<line x1="188" y1="528.75" x2="190.4" y2="528.75" stroke="#74749a" stroke-width="0.8"/>
<text x="184.4" y="531.51" text-anchor="end" font-family="Liberation Sans, sans-serif" font-size="9.2" fill="#15152a">1.5</text>
<line x1="188" y1="552.90" x2="190.4" y2="552.90" stroke="#74749a" stroke-width="0.8"/>
<text x="184.4" y="555.71" text-anchor="end" font-family="Liberation Sans, sans-serif" font-size="9.2" fill="#15152a">1</text>
<line x1="188" y1="577.05" x2="190.4" y2="577.05" stroke="#74749a" stroke-width="0.8"/>
<text x="184.4" y="580.91" text-anchor="end" font-family="Liberation Sans, sans-serif" font-size="9.2" fill="#15152a">0.5</text>
<text transform="translate(73.5,489.7) scale(0.95,1)" font-family="Liberation Sans, sans-serif" font-size="13" font-style="italic" fill="#111">HMGS</text>
<line x1="135.2" y1="484.2" x2="143.7" y2="484.2" stroke="#14144e" stroke-width="1.2"/><circle cx="139.39999999999998" cy="484.2" r="1.3" fill="#14144e"/>
<text x="149" y="489.5" font-family="Liberation Sans, sans-serif" font-size="13.5" fill="#111">G</text>
<line x1="194.6" y1="484.2" x2="203.1" y2="484.2" stroke="#ff1ad0" stroke-width="1.2"/><rect x="197.2" y="482.6" width="3.2" height="3.2" fill="#ff1ad0"/>
<text x="207.6" y="489.5" font-family="Liberation Sans, sans-serif" font-size="13.5" fill="#111">P</text>
<path d="M14.5,502.0V558.5M13.0,502.0h3M13.0,558.5h3" stroke="#33333f" stroke-width="0.8" fill="none"/>
<path d="M100.5,548.0V554.0M99.0,548.0h3M99.0,554.0h3" stroke="#33333f" stroke-width="0.8" fill="none"/>
<path d="M144.5,498.1V567.3M143.0,498.1h3M143.0,567.3h3" stroke="#33333f" stroke-width="0.8" fill="none"/>
<path d="M158.5,522.6V550.0M157.0,522.6h3M157.0,550.0h3" stroke="#33333f" stroke-width="0.8" fill="none"/>
<path d="M173.5,533.6V556.5M172.0,533.6h3M172.0,556.5h3" stroke="#33333f" stroke-width="0.8" fill="none"/>
<path d="M184.5,574.0V583.0M183.0,574.0h3M183.0,583.0h3" stroke="#33333f" stroke-width="0.8" fill="none"/>
<path d="M188.5,552.0V554.0M187.0,552.0h3M187.0,554.0h3" stroke="#33333f" stroke-width="0.8" fill="none"/>
<polyline points="14.1,536.3 100.9,550.7 144.6,542.0 158.9,537.6 173.5,545.8 184.3,577.6 188.0,553.0" fill="none" stroke="#14144e" stroke-width="1.25" stroke-linejoin="round"/>
<circle cx="14.1" cy="536.3" r="1.25" fill="#14144e"/>
<circle cx="100.9" cy="550.7" r="1.25" fill="#14144e"/>
<circle cx="144.6" cy="542.0" r="1.25" fill="#14144e"/>
<circle cx="158.9" cy="537.6" r="1.25" fill="#14144e"/>
<circle cx="173.5" cy="545.8" r="1.25" fill="#14144e"/>
<circle cx="184.3" cy="577.6" r="1.25" fill="#14144e"/>
<circle cx="188.0" cy="553.0" r="1.25" fill="#14144e"/>
<path d="M188.5,560.5V567.3M187.0,560.5h3M187.0,567.3h3" stroke="#33333f" stroke-width="0.8" fill="none"/>
<path d="M202.5,544.0V560.5M201.0,544.0h3M201.0,560.5h3" stroke="#33333f" stroke-width="0.8" fill="none"/>
<polyline points="188.0,563.4 202.3,553.1" fill="none" stroke="#ff1ad0" stroke-width="1.25" stroke-linejoin="round"/>
<rect x="186.3" y="561.7" width="3.4" height="3.4" fill="#ff1ad0"/>
<rect x="200.6" y="551.4" width="3.4" height="3.4" fill="#ff1ad0"/>
<line x1="243.43999999999997" y1="600.9" x2="444.56" y2="600.9" stroke="#34345a" stroke-width="1.2"/>
<line x1="415.4" y1="479.7" x2="415.4" y2="600.9" stroke="#33334e" stroke-width="1"/>
<line x1="243.44" y1="598.6" x2="243.44" y2="600.9" stroke="#34345a" stroke-width="0.8"/>
<line x1="257.77" y1="598.6" x2="257.77" y2="600.9" stroke="#34345a" stroke-width="0.8"/>
<line x1="272.10" y1="598.6" x2="272.10" y2="600.9" stroke="#34345a" stroke-width="0.8"/>
<line x1="286.43" y1="598.6" x2="286.43" y2="600.9" stroke="#34345a" stroke-width="0.8"/>
<line x1="300.76" y1="598.6" x2="300.76" y2="600.9" stroke="#34345a" stroke-width="0.8"/>
<line x1="315.09" y1="598.6" x2="315.09" y2="600.9" stroke="#34345a" stroke-width="0.8"/>
<line x1="329.42" y1="598.6" x2="329.42" y2="600.9" stroke="#34345a" stroke-width="0.8"/>
<line x1="343.75" y1="598.6" x2="343.75" y2="600.9" stroke="#34345a" stroke-width="0.8"/>
<line x1="358.08" y1="598.6" x2="358.08" y2="600.9" stroke="#34345a" stroke-width="0.8"/>
<line x1="372.41" y1="598.6" x2="372.41" y2="600.9" stroke="#34345a" stroke-width="0.8"/>
<line x1="386.74" y1="598.6" x2="386.74" y2="600.9" stroke="#34345a" stroke-width="0.8"/>
<line x1="401.07" y1="598.6" x2="401.07" y2="600.9" stroke="#34345a" stroke-width="0.8"/>
<line x1="415.40" y1="598.6" x2="415.40" y2="600.9" stroke="#34345a" stroke-width="0.8"/>
<line x1="429.73" y1="598.6" x2="429.73" y2="600.9" stroke="#34345a" stroke-width="0.8"/>
<line x1="444.06" y1="598.6" x2="444.06" y2="600.9" stroke="#34345a" stroke-width="0.8"/>
<text transform="translate(243.44,613.8) scale(0.9,1)" text-anchor="middle" font-family="Liberation Sans, sans-serif" font-size="9.8" fill="#15152a">48</text>
<text transform="translate(329.42,613.8) scale(0.9,1)" text-anchor="middle" font-family="Liberation Sans, sans-serif" font-size="9.8" fill="#15152a">24</text>
<text transform="translate(372.41,613.8) scale(0.9,1)" text-anchor="middle" font-family="Liberation Sans, sans-serif" font-size="9.8" fill="#15152a">12</text>
<text transform="translate(386.74,613.8) scale(0.9,1)" text-anchor="middle" font-family="Liberation Sans, sans-serif" font-size="9.8" fill="#15152a">8</text>
<text transform="translate(401.07,613.8) scale(0.9,1)" text-anchor="middle" font-family="Liberation Sans, sans-serif" font-size="9.8" fill="#15152a">4</text>
<text transform="translate(415.40,613.8) scale(0.9,1)" text-anchor="middle" font-family="Liberation Sans, sans-serif" font-size="9.8" fill="#15152a">0</text>
<text transform="translate(429.03,613.8) scale(0.9,1)" text-anchor="middle" font-family="Liberation Sans, sans-serif" font-size="9.8" fill="#15152a">4</text>
<text transform="translate(444.06,613.8) scale(0.9,1)" text-anchor="middle" font-family="Liberation Sans, sans-serif" font-size="9.8" fill="#15152a">8</text>
<text x="353.4" y="619.1999999999999" text-anchor="middle" font-family="Liberation Sans, sans-serif" font-size="9.200000000000001" fill="#15152a">(h)</text>
<line x1="415.4" y1="481.50" x2="417.79999999999995" y2="481.50" stroke="#33334e" stroke-width="0.8"/>
<text x="411.4" y="486.13" text-anchor="end" font-family="Liberation Sans, sans-serif" font-size="9.8" fill="#15152a">6</text>
<line x1="415.4" y1="501.40" x2="417.79999999999995" y2="501.40" stroke="#33334e" stroke-width="0.8"/>
<text x="411.4" y="504.73" text-anchor="end" font-family="Liberation Sans, sans-serif" font-size="9.8" fill="#15152a">5</text>
<line x1="415.4" y1="521.30" x2="417.79999999999995" y2="521.30" stroke="#33334e" stroke-width="0.8"/>
<text x="411.4" y="525.13" text-anchor="end" font-family="Liberation Sans, sans-serif" font-size="9.8" fill="#15152a">4</text>
<line x1="415.4" y1="541.20" x2="417.79999999999995" y2="541.20" stroke="#33334e" stroke-width="0.8"/>
<text x="411.4" y="544.33" text-anchor="end" font-family="Liberation Sans, sans-serif" font-size="9.8" fill="#15152a">3</text>
<line x1="415.4" y1="561.10" x2="417.79999999999995" y2="561.10" stroke="#33334e" stroke-width="0.8"/>
<text x="411.4" y="564.73" text-anchor="end" font-family="Liberation Sans, sans-serif" font-size="9.8" fill="#15152a">2</text>
<line x1="415.4" y1="581.00" x2="417.79999999999995" y2="581.00" stroke="#33334e" stroke-width="0.8"/>
<text x="411.4" y="583.73" text-anchor="end" font-family="Liberation Sans, sans-serif" font-size="9.8" fill="#15152a">1</text>
<text transform="translate(298,489.7) scale(0.95,1)" font-family="Liberation Sans, sans-serif" font-size="13" font-style="italic" fill="#111">OSC</text>
<line x1="369.4" y1="484.2" x2="377.9" y2="484.2" stroke="#14144e" stroke-width="1.2"/><circle cx="373.59999999999997" cy="484.2" r="1.3" fill="#14144e"/>
<text x="383.2" y="489.5" font-family="Liberation Sans, sans-serif" font-size="13.5" fill="#111">G</text>
<line x1="425.8" y1="484.2" x2="434.3" y2="484.2" stroke="#ff1ad0" stroke-width="1.2"/><rect x="428.40000000000003" y="482.6" width="3.2" height="3.2" fill="#ff1ad0"/>
<text x="437.8" y="489.5" font-family="Liberation Sans, sans-serif" font-size="13.5" fill="#111">P</text>
<path d="M243.5,554.8V561.8M242.0,554.8h3M242.0,561.8h3" stroke="#33333f" stroke-width="0.8" fill="none"/>
<path d="M329.5,549.0V556.4M328.0,549.0h3M328.0,556.4h3" stroke="#33333f" stroke-width="0.8" fill="none"/>
<path d="M372.5,551.7V576.6M371.0,551.7h3M371.0,576.6h3" stroke="#33333f" stroke-width="0.8" fill="none"/>
<path d="M386.5,570.2V576.9M385.0,570.2h3M385.0,576.9h3" stroke="#33333f" stroke-width="0.8" fill="none"/>
<path d="M400.5,591.0V597.7M399.0,591.0h3M399.0,597.7h3" stroke="#33333f" stroke-width="0.8" fill="none"/>
<path d="M411.5,590.0V594.0M410.0,590.0h3M410.0,594.0h3" stroke="#33333f" stroke-width="0.8" fill="none"/>
<path d="M415.5,578.5V585.0M414.0,578.5h3M414.0,585.0h3" stroke="#33333f" stroke-width="0.8" fill="none"/>
<polyline points="243.4,558.1 329.4,552.4 372.0,566.9 386.8,573.6 400.9,594.4 411.7,591.7 415.4,581.6" fill="none" stroke="#14144e" stroke-width="1.25" stroke-linejoin="round"/>
<circle cx="243.4" cy="558.1" r="1.25" fill="#14144e"/>
<circle cx="329.4" cy="552.4" r="1.25" fill="#14144e"/>
<circle cx="372.0" cy="566.9" r="1.25" fill="#14144e"/>
<circle cx="386.8" cy="573.6" r="1.25" fill="#14144e"/>
<circle cx="400.9" cy="594.4" r="1.25" fill="#14144e"/>
<circle cx="411.7" cy="591.7" r="1.25" fill="#14144e"/>
<circle cx="415.4" cy="581.6" r="1.25" fill="#14144e"/>
<path d="M415.5,532.0V537.5M414.0,532.0h3M414.0,537.5h3" stroke="#33333f" stroke-width="0.8" fill="none"/>
<path d="M429.5,497.7V547.4M428.0,497.7h3M428.0,547.4h3" stroke="#33333f" stroke-width="0.8" fill="none"/>
<polyline points="415.4,534.6 429.5,527.2" fill="none" stroke="#ff1ad0" stroke-width="1.25" stroke-linejoin="round"/>
<rect x="413.7" y="532.9" width="3.4" height="3.4" fill="#ff1ad0"/>
<rect x="427.8" y="525.5" width="3.4" height="3.4" fill="#ff1ad0"/>
<line x1="470.3399999999999" y1="601.2" x2="671.4599999999999" y2="601.2" stroke="#34345a" stroke-width="1.2"/>
<line x1="642.3" y1="482" x2="642.3" y2="601.2" stroke="#464664" stroke-width="1.1"/>
<line x1="470.34" y1="598.9000000000001" x2="470.34" y2="601.2" stroke="#34345a" stroke-width="0.8"/>
<line x1="484.67" y1="598.9000000000001" x2="484.67" y2="601.2" stroke="#34345a" stroke-width="0.8"/>
<line x1="499.00" y1="598.9000000000001" x2="499.00" y2="601.2" stroke="#34345a" stroke-width="0.8"/>
<line x1="513.33" y1="598.9000000000001" x2="513.33" y2="601.2" stroke="#34345a" stroke-width="0.8"/>
<line x1="527.66" y1="598.9000000000001" x2="527.66" y2="601.2" stroke="#34345a" stroke-width="0.8"/>
<line x1="541.99" y1="598.9000000000001" x2="541.99" y2="601.2" stroke="#34345a" stroke-width="0.8"/>
<line x1="556.32" y1="598.9000000000001" x2="556.32" y2="601.2" stroke="#34345a" stroke-width="0.8"/>
<line x1="570.65" y1="598.9000000000001" x2="570.65" y2="601.2" stroke="#34345a" stroke-width="0.8"/>
<line x1="584.98" y1="598.9000000000001" x2="584.98" y2="601.2" stroke="#34345a" stroke-width="0.8"/>
<line x1="599.31" y1="598.9000000000001" x2="599.31" y2="601.2" stroke="#34345a" stroke-width="0.8"/>
<line x1="613.64" y1="598.9000000000001" x2="613.64" y2="601.2" stroke="#34345a" stroke-width="0.8"/>
<line x1="627.97" y1="598.9000000000001" x2="627.97" y2="601.2" stroke="#34345a" stroke-width="0.8"/>
<line x1="642.30" y1="598.9000000000001" x2="642.30" y2="601.2" stroke="#34345a" stroke-width="0.8"/>
<line x1="656.63" y1="598.9000000000001" x2="656.63" y2="601.2" stroke="#34345a" stroke-width="0.8"/>
<line x1="670.96" y1="598.9000000000001" x2="670.96" y2="601.2" stroke="#34345a" stroke-width="0.8"/>
<text transform="translate(470.34,614.2) scale(0.9,1)" text-anchor="middle" font-family="Liberation Sans, sans-serif" font-size="9.8" fill="#15152a">48</text>
<text transform="translate(556.32,614.2) scale(0.9,1)" text-anchor="middle" font-family="Liberation Sans, sans-serif" font-size="9.8" fill="#15152a">24</text>
<text transform="translate(599.31,614.2) scale(0.9,1)" text-anchor="middle" font-family="Liberation Sans, sans-serif" font-size="9.8" fill="#15152a">12</text>
<text transform="translate(613.64,614.2) scale(0.9,1)" text-anchor="middle" font-family="Liberation Sans, sans-serif" font-size="9.8" fill="#15152a">8</text>
<text transform="translate(627.97,614.2) scale(0.9,1)" text-anchor="middle" font-family="Liberation Sans, sans-serif" font-size="9.8" fill="#15152a">4</text>
<text transform="translate(642.30,614.2) scale(0.9,1)" text-anchor="middle" font-family="Liberation Sans, sans-serif" font-size="9.8" fill="#15152a">0</text>
<text transform="translate(655.23,614.2) scale(0.9,1)" text-anchor="middle" font-family="Liberation Sans, sans-serif" font-size="9.8" fill="#15152a">4</text>
<text transform="translate(670.96,614.2) scale(0.9,1)" text-anchor="middle" font-family="Liberation Sans, sans-serif" font-size="9.8" fill="#15152a">8</text>
<text x="581.2" y="619.6" text-anchor="middle" font-family="Liberation Sans, sans-serif" font-size="9.200000000000001" fill="#15152a">(h)</text>
<line x1="642.3" y1="483.00" x2="644.6999999999999" y2="483.00" stroke="#464664" stroke-width="0.8"/>
<text x="638.4" y="488.43" text-anchor="end" font-family="Liberation Sans, sans-serif" font-size="9.8" fill="#15152a">3</text>
<line x1="642.3" y1="502.70" x2="644.6999999999999" y2="502.70" stroke="#464664" stroke-width="0.8"/>
<text x="638.4" y="507.33" text-anchor="end" font-family="Liberation Sans, sans-serif" font-size="9.8" fill="#15152a">2.5</text>
<line x1="642.3" y1="522.40" x2="644.6999999999999" y2="522.40" stroke="#464664" stroke-width="0.8"/>
<text x="638.4" y="526.53" text-anchor="end" font-family="Liberation Sans, sans-serif" font-size="9.8" fill="#15152a">2</text>
<line x1="642.3" y1="542.10" x2="644.6999999999999" y2="542.10" stroke="#464664" stroke-width="0.8"/>
<text x="638.4" y="546.63" text-anchor="end" font-family="Liberation Sans, sans-serif" font-size="9.8" fill="#15152a">1.5</text>
<line x1="642.3" y1="561.80" x2="644.6999999999999" y2="561.80" stroke="#464664" stroke-width="0.8"/>
<text x="638.4" y="564.83" text-anchor="end" font-family="Liberation Sans, sans-serif" font-size="9.8" fill="#15152a">1</text>
<line x1="642.3" y1="581.50" x2="644.6999999999999" y2="581.50" stroke="#464664" stroke-width="0.8"/>
<text x="638.4" y="585.93" text-anchor="end" font-family="Liberation Sans, sans-serif" font-size="9.8" fill="#15152a">0.5</text>
<text transform="translate(537,489.7) scale(0.95,1)" font-family="Liberation Sans, sans-serif" font-size="13" font-style="italic" fill="#111">UGT</text>
<line x1="596" y1="484.2" x2="604.5" y2="484.2" stroke="#14144e" stroke-width="1.2"/><circle cx="600.2" cy="484.2" r="1.3" fill="#14144e"/>
<text x="610" y="489.5" font-family="Liberation Sans, sans-serif" font-size="13.5" fill="#111">G</text>
<line x1="649.1" y1="484.2" x2="657.6" y2="484.2" stroke="#ff1ad0" stroke-width="1.2"/><rect x="651.7" y="482.6" width="3.2" height="3.2" fill="#ff1ad0"/>
<text x="660.2" y="489.5" font-family="Liberation Sans, sans-serif" font-size="13.5" fill="#111">P</text>
<path d="M470.5,522.9V569.2M469.0,522.9h3M469.0,569.2h3" stroke="#33333f" stroke-width="0.8" fill="none"/>
<path d="M555.5,523.2V573.2M554.0,523.2h3M554.0,573.2h3" stroke="#33333f" stroke-width="0.8" fill="none"/>
<path d="M599.5,568.5V582.6M598.0,568.5h3M598.0,582.6h3" stroke="#33333f" stroke-width="0.8" fill="none"/>
<path d="M613.5,560.1V590.4M612.0,560.1h3M612.0,590.4h3" stroke="#33333f" stroke-width="0.8" fill="none"/>
<path d="M627.5,566.5V576.9M626.0,566.5h3M626.0,576.9h3" stroke="#33333f" stroke-width="0.8" fill="none"/>
<path d="M638.5,564.2V581.0M637.0,564.2h3M637.0,581.0h3" stroke="#33333f" stroke-width="0.8" fill="none"/>
<path d="M642.5,559.0V564.0M641.0,559.0h3M641.0,564.0h3" stroke="#33333f" stroke-width="0.8" fill="none"/>
<polyline points="470.1,551.4 555.7,554.1 599.4,576.6 613.5,581.0 627.9,571.9 638.3,573.6 642.3,561.5" fill="none" stroke="#14144e" stroke-width="1.25" stroke-linejoin="round"/>
<circle cx="470.1" cy="551.4" r="1.25" fill="#14144e"/>
<circle cx="555.7" cy="554.1" r="1.25" fill="#14144e"/>
<circle cx="599.4" cy="576.6" r="1.25" fill="#14144e"/>
<circle cx="613.5" cy="581.0" r="1.25" fill="#14144e"/>
<circle cx="627.9" cy="571.9" r="1.25" fill="#14144e"/>
<circle cx="638.3" cy="573.6" r="1.25" fill="#14144e"/>
<circle cx="642.3" cy="561.5" r="1.25" fill="#14144e"/>
<path d="M642.5,529.0V534.0M641.0,529.0h3M641.0,534.0h3" stroke="#33333f" stroke-width="0.8" fill="none"/>
<path d="M656.5,498.0V508.8M655.0,498.0h3M655.0,508.8h3" stroke="#33333f" stroke-width="0.8" fill="none"/>
<polyline points="642.3,531.3 656.5,503.7" fill="none" stroke="#ff1ad0" stroke-width="1.25" stroke-linejoin="round"/>
<rect x="640.6" y="529.6" width="3.4" height="3.4" fill="#ff1ad0"/>
<rect x="654.8" y="502.0" width="3.4" height="3.4" fill="#ff1ad0"/>
</g>
</svg>
</body></html>
